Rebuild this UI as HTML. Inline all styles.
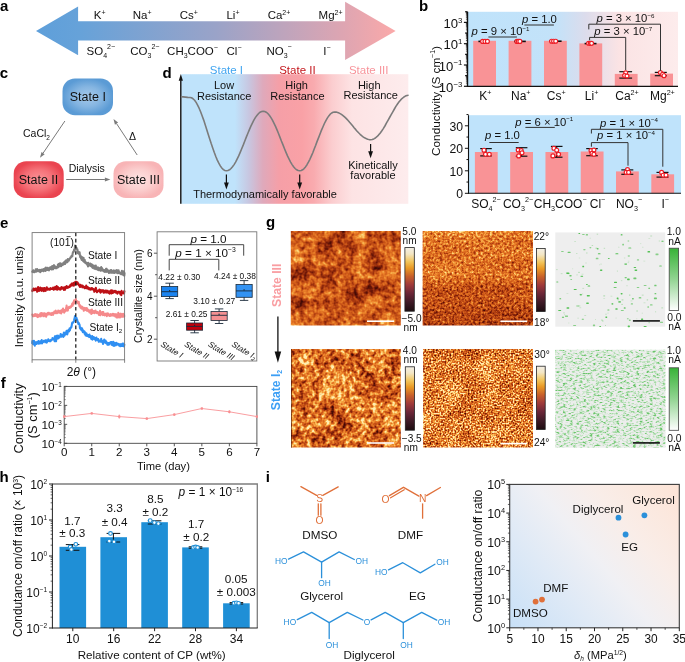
<!DOCTYPE html>
<html><head><meta charset="utf-8"><title>Figure</title>
<style>html,body{margin:0;padding:0;background:#fff}svg{display:block}text{font-family:'Liberation Sans', sans-serif;}</style>
</head><body>
<svg width="685" height="662" viewBox="0 0 685 662" font-family="'Liberation Sans', sans-serif">
<rect width="685" height="662" fill="#fff"/>
<g id="panel_a">
<linearGradient id="gA" x1="36" x2="396" y1="0" y2="0" gradientUnits="userSpaceOnUse">
<stop offset="0" stop-color="#5e9fda"/><stop offset="0.12" stop-color="#66a2d9"/><stop offset="0.5" stop-color="#9aa3c8"/><stop offset="0.85" stop-color="#dda5b2"/><stop offset="1" stop-color="#fba9a9"/></linearGradient>
<path d="M36,31 L78.1,6.6 L78.1,21.2 L345.1,21.2 L345.1,1.8 L395.6,31 L345.1,59.9 L345.1,40.6 L78.1,40.6 L78.1,55.2 Z" fill="url(#gA)"/>
<text x="0.00" y="10.70" font-size="15" font-weight="bold" fill="#000">a</text>
<text x="99.70" y="19.32" font-size="11.5" text-anchor="middle" fill="#111111" >K<tspan dy="-4.80" font-size="7">+</tspan><tspan dy="4.80" font-size="7">​</tspan></text>
<text x="142.20" y="19.32" font-size="11.5" text-anchor="middle" fill="#111111" >Na<tspan dy="-4.80" font-size="7">+</tspan><tspan dy="4.80" font-size="7">​</tspan></text>
<text x="188.80" y="19.32" font-size="11.5" text-anchor="middle" fill="#111111" >Cs<tspan dy="-4.80" font-size="7">+</tspan><tspan dy="4.80" font-size="7">​</tspan></text>
<text x="233.00" y="19.32" font-size="11.5" text-anchor="middle" fill="#111111" >Li<tspan dy="-4.80" font-size="7">+</tspan><tspan dy="4.80" font-size="7">​</tspan></text>
<text x="279.00" y="19.32" font-size="11.5" text-anchor="middle" fill="#111111" >Ca<tspan dy="-4.80" font-size="7">2+</tspan><tspan dy="4.80" font-size="7">​</tspan></text>
<text x="330.60" y="19.32" font-size="11.5" text-anchor="middle" fill="#111111" >Mg<tspan dy="-4.80" font-size="7">2+</tspan><tspan dy="4.80" font-size="7">​</tspan></text>
<text x="100.80" y="54.62" font-size="11.5" text-anchor="middle" fill="#111111" >SO<tspan dy="3.00" font-size="7">4</tspan><tspan dy="-8.4" font-size="7">2−</tspan></text>
<text x="144.80" y="54.62" font-size="11.5" text-anchor="middle" fill="#111111" >CO<tspan dy="3.00" font-size="7">3</tspan><tspan dy="-8.4" font-size="7">2−</tspan></text>
<text x="192.50" y="54.62" font-size="11.5" text-anchor="middle" fill="#111111" >CH<tspan dy="3.00" font-size="7">3</tspan><tspan dy="-3.00" font-size="7">​</tspan>COO<tspan dy="-4.50" font-size="7">−</tspan><tspan dy="4.50" font-size="7">​</tspan></text>
<text x="234.00" y="54.62" font-size="11.5" text-anchor="middle" fill="#111111" >Cl<tspan dy="-4.50" font-size="7">−</tspan><tspan dy="4.50" font-size="7">​</tspan></text>
<text x="279.00" y="54.62" font-size="11.5" text-anchor="middle" fill="#111111" >NO<tspan dy="3.00" font-size="7">3</tspan><tspan dy="-8.4" font-size="7">−</tspan></text>
<text x="327.00" y="54.62" font-size="11.5" text-anchor="middle" fill="#111111" >I<tspan dy="-4.50" font-size="7">−</tspan><tspan dy="4.50" font-size="7">​</tspan></text>
</g>
<g id="panel_c">
<radialGradient id="gC1"><stop offset="0" stop-color="#a6c9ea"/><stop offset="0.55" stop-color="#85b5e1"/><stop offset="1" stop-color="#5b9bd5"/></radialGradient>
<radialGradient id="gC2"><stop offset="0" stop-color="#fa9498"/><stop offset="0.55" stop-color="#f57279"/><stop offset="1" stop-color="#ea4450"/></radialGradient>
<radialGradient id="gC3"><stop offset="0" stop-color="#fde3e3"/><stop offset="0.55" stop-color="#fbcfcf"/><stop offset="1" stop-color="#f8b4b6"/></radialGradient>
<text x="-0.20" y="78.00" font-size="15" font-weight="bold" fill="#000">c</text>
<rect x="62.5" y="78.4" width="50.5" height="36.8" rx="12.5" fill="url(#gC1)"/>
<rect x="13.7" y="161.2" width="50" height="36.8" rx="12.5" fill="url(#gC2)"/>
<rect x="113.5" y="161.2" width="50" height="36.8" rx="12.5" fill="url(#gC3)"/>
<text x="87.80" y="100.97" font-size="12.5" text-anchor="middle" fill="#111111" >State I</text>
<text x="38.50" y="184.28" font-size="12.5" text-anchor="middle" fill="#111111" >State II</text>
<text x="138.50" y="184.28" font-size="12.5" text-anchor="middle" fill="#111111" >State III</text>
<line x1="64.90" y1="121.00" x2="43.09" y2="153.15" stroke="#7a7a7a" stroke-width="1" /><polygon points="40.00,157.70 41.52,152.08 44.66,154.22" fill="#7a7a7a"/>
<line x1="137.20" y1="155.00" x2="116.52" y2="123.59" stroke="#7a7a7a" stroke-width="1" /><polygon points="113.50,119.00 118.11,122.55 114.94,124.64" fill="#7a7a7a"/>
<line x1="66.20" y1="179.50" x2="104.90" y2="179.50" stroke="#7a7a7a" stroke-width="1" /><polygon points="110.40,179.50 104.90,181.40 104.90,177.60" fill="#7a7a7a"/>
<text x="36.50" y="137.26" font-size="10.5" text-anchor="middle" fill="#111111" >CaCl<tspan dy="2.50" font-size="6.5">2</tspan><tspan dy="-2.50" font-size="6.5">​</tspan></text>
<text x="86.80" y="172.26" font-size="10.5" text-anchor="middle" fill="#111111" >Dialysis</text>
<text x="132.50" y="139.76" font-size="10.5" text-anchor="middle" fill="#111111" >Δ</text>
</g>
<g id="panel_d">
<linearGradient id="gD" x1="181.2" x2="408.3" y1="0" y2="0" gradientUnits="userSpaceOnUse">
<stop offset="0" stop-color="#bfe3fb"/><stop offset="0.237" stop-color="#bfe3fb"/><stop offset="0.299" stop-color="#c8c6e0"/><stop offset="0.360" stop-color="#dfa9bb"/><stop offset="0.431" stop-color="#f59fa7"/><stop offset="0.532" stop-color="#f9a1a6"/><stop offset="0.585" stop-color="#f9abaf"/><stop offset="0.664" stop-color="#fbcdcf"/><stop offset="0.752" stop-color="#fde3e4"/><stop offset="1" stop-color="#fdeced"/></linearGradient>
<rect x="181.20" y="74.20" width="227.10" height="129.60" fill="url(#gD)" />
<text x="162.40" y="77.60" font-size="15" font-weight="bold" fill="#000">d</text>
<line x1="180.80" y1="203.80" x2="180.80" y2="80.20" stroke="#111" stroke-width="1.4" />
<polygon points="180.8,73.9 178.70000000000002,80.8 182.9,80.8" fill="#111"/>
<path d="M180.9,96.8 L183.2,96.9 L185.4,97.1 L187.7,97.4 L190.0,97.5 L191.5,97.8 L193.0,98.7 L194.6,100.3 L196.1,102.4 L197.6,105.1 L199.1,108.2 L200.6,111.8 L202.1,115.8 L203.7,120.1 L205.2,124.7 L206.7,129.4 L208.2,134.2 L209.7,138.9 L211.2,143.6 L212.8,148.2 L214.3,152.5 L215.8,156.5 L217.3,160.1 L218.8,163.2 L220.3,165.9 L221.8,168.0 L223.4,169.6 L224.9,170.5 L226.4,170.8 L227.9,170.5 L229.5,169.8 L231.0,168.5 L232.5,166.8 L234.1,164.6 L235.6,162.1 L237.1,159.1 L238.7,155.9 L240.2,152.4 L241.7,148.7 L243.3,144.9 L244.8,141.0 L246.3,137.1 L247.9,133.3 L249.4,129.6 L250.9,126.1 L252.5,122.9 L254.0,119.9 L255.5,117.4 L257.1,115.2 L258.6,113.5 L260.1,112.2 L261.7,111.5 L263.2,111.2 L264.7,111.5 L266.2,112.2 L267.8,113.5 L269.3,115.2 L270.8,117.4 L272.3,119.9 L273.8,122.9 L275.4,126.1 L276.9,129.6 L278.4,133.3 L279.9,137.1 L281.4,141.0 L283.0,144.9 L284.5,148.7 L286.0,152.4 L287.5,155.9 L289.1,159.1 L290.6,162.1 L292.1,164.6 L293.6,166.8 L295.1,168.5 L296.7,169.8 L298.2,170.5 L299.7,170.8 L301.2,170.5 L302.6,169.8 L304.1,168.6 L305.5,166.9 L307.0,164.7 L308.4,162.2 L309.9,159.3 L311.3,156.1 L312.8,152.7 L314.2,149.0 L315.7,145.2 L317.1,141.4 L318.6,137.6 L320.1,133.8 L321.5,130.1 L323.0,126.7 L324.4,123.5 L325.9,120.6 L327.3,118.1 L328.8,115.9 L330.2,114.2 L331.7,113.0 L333.1,112.3 L334.6,112.0 L336.1,112.1 L337.6,112.5 L339.1,113.1 L340.6,113.9 L342.1,114.9 L343.6,116.1 L345.1,117.4 L346.6,118.9 L348.1,120.5 L349.6,122.3 L351.1,124.0 L352.6,125.8 L354.1,127.7 L355.6,129.4 L357.1,131.2 L358.6,132.8 L360.1,134.3 L361.6,135.6 L363.1,136.8 L364.6,137.8 L366.1,138.6 L367.6,139.2 L369.1,139.6 L370.6,139.7 L372.2,139.5 L373.8,138.9 L375.4,138.0 L376.9,136.7 L378.5,135.1 L380.1,133.2 L381.7,131.0 L383.3,128.6 L384.9,126.0 L386.4,123.2 L388.0,120.4 L389.6,117.5 L391.2,114.6 L392.8,111.8 L394.4,109.0 L395.9,106.4 L397.5,104.0 L399.1,101.8 L400.7,99.9 L402.3,98.3 L403.9,97.0 L405.4,96.1 L407.0,95.5 L408.6,95.3" stroke="#7b7b7b" stroke-width="1.6" fill="none" stroke-linejoin="round"/>
<text x="226.40" y="74.12" font-size="11.5" text-anchor="middle" fill="#41a5f0" >State I</text>
<text x="297.40" y="74.12" font-size="11.5" text-anchor="middle" fill="#c4161c" >State II</text>
<text x="368.70" y="74.12" font-size="11.5" text-anchor="middle" fill="#f8939a" >State III</text>
<text x="224.00" y="88.94" font-size="11" text-anchor="middle" fill="#111111" >Low</text>
<text x="224.20" y="100.24" font-size="11" text-anchor="middle" fill="#111111" >Resistance</text>
<text x="296.60" y="88.94" font-size="11" text-anchor="middle" fill="#111111" >High</text>
<text x="297.40" y="100.24" font-size="11" text-anchor="middle" fill="#111111" >Resistance</text>
<text x="369.20" y="88.54" font-size="11" text-anchor="middle" fill="#111111" >High</text>
<text x="370.70" y="99.44" font-size="11" text-anchor="middle" fill="#111111" >Resistance</text>
<line x1="226.40" y1="174.50" x2="226.40" y2="184.60" stroke="#111" stroke-width="1.2" /><polygon points="226.4,189.6 224.0,182.6 228.8,182.6" fill="#111"/>
<line x1="299.70" y1="174.50" x2="299.70" y2="184.60" stroke="#111" stroke-width="1.2" /><polygon points="299.7,189.6 297.3,182.6 302.09999999999997,182.6" fill="#111"/>
<line x1="370.60" y1="144.00" x2="370.60" y2="153.20" stroke="#111" stroke-width="1.2" /><polygon points="370.6,158.2 368.20000000000005,151.2 373.0,151.2" fill="#111"/>
<text x="265.00" y="198.14" font-size="11" text-anchor="middle" fill="#111111" >Thermodynamically favorable</text>
<text x="373.00" y="168.74" font-size="11" text-anchor="middle" fill="#111111" >Kinetically</text>
<text x="373.00" y="179.34" font-size="11" text-anchor="middle" fill="#111111" >favorable</text>
</g>
<g id="panel_b">
<text x="419.00" y="10.70" font-size="15" font-weight="bold" fill="#000">b</text>
<linearGradient id="gB" x1="467.5" x2="678" y1="0" y2="0" gradientUnits="userSpaceOnUse">
<stop offset="0" stop-color="#bfe3fb"/><stop offset="0.42" stop-color="#c3e2f9"/><stop offset="0.56" stop-color="#dcdcec"/><stop offset="0.72" stop-color="#fbe3e4"/><stop offset="1" stop-color="#fdecec"/></linearGradient>
<rect x="467.50" y="11.80" width="210.50" height="74.50" fill="url(#gB)" />
<rect x="473.20" y="40.80" width="22.80" height="45.50" fill="#f99396" />
<rect x="508.60" y="40.80" width="22.80" height="45.50" fill="#f99396" />
<rect x="544.00" y="40.80" width="22.80" height="45.50" fill="#f99396" />
<rect x="579.40" y="43.40" width="22.80" height="42.90" fill="#f99396" />
<rect x="614.80" y="73.90" width="22.80" height="12.40" fill="#f99396" />
<rect x="650.20" y="73.60" width="22.80" height="12.70" fill="#f99396" />
<line x1="467.50" y1="11.80" x2="467.50" y2="86.90" stroke="#111" stroke-width="1.4" />
<line x1="466.90" y1="86.30" x2="678.00" y2="86.30" stroke="#111" stroke-width="1.2" />
<line x1="463.90" y1="86.30" x2="467.50" y2="86.30" stroke="#111" stroke-width="1.2" />
<line x1="465.90" y1="83.09" x2="467.50" y2="83.09" stroke="#111" stroke-width="0.6" />
<line x1="465.90" y1="81.22" x2="467.50" y2="81.22" stroke="#111" stroke-width="0.6" />
<line x1="465.90" y1="79.89" x2="467.50" y2="79.89" stroke="#111" stroke-width="0.6" />
<line x1="465.90" y1="78.86" x2="467.50" y2="78.86" stroke="#111" stroke-width="0.6" />
<line x1="465.90" y1="78.01" x2="467.50" y2="78.01" stroke="#111" stroke-width="0.6" />
<line x1="465.90" y1="77.30" x2="467.50" y2="77.30" stroke="#111" stroke-width="0.6" />
<line x1="465.90" y1="76.68" x2="467.50" y2="76.68" stroke="#111" stroke-width="0.6" />
<line x1="465.90" y1="76.14" x2="467.50" y2="76.14" stroke="#111" stroke-width="0.6" />
<line x1="465.10" y1="75.65" x2="467.50" y2="75.65" stroke="#111" stroke-width="1.2" />
<line x1="465.90" y1="72.44" x2="467.50" y2="72.44" stroke="#111" stroke-width="0.6" />
<line x1="465.90" y1="70.57" x2="467.50" y2="70.57" stroke="#111" stroke-width="0.6" />
<line x1="465.90" y1="69.24" x2="467.50" y2="69.24" stroke="#111" stroke-width="0.6" />
<line x1="465.90" y1="68.21" x2="467.50" y2="68.21" stroke="#111" stroke-width="0.6" />
<line x1="465.90" y1="67.36" x2="467.50" y2="67.36" stroke="#111" stroke-width="0.6" />
<line x1="465.90" y1="66.65" x2="467.50" y2="66.65" stroke="#111" stroke-width="0.6" />
<line x1="465.90" y1="66.03" x2="467.50" y2="66.03" stroke="#111" stroke-width="0.6" />
<line x1="465.90" y1="65.49" x2="467.50" y2="65.49" stroke="#111" stroke-width="0.6" />
<line x1="463.90" y1="65.00" x2="467.50" y2="65.00" stroke="#111" stroke-width="1.2" />
<line x1="465.90" y1="61.79" x2="467.50" y2="61.79" stroke="#111" stroke-width="0.6" />
<line x1="465.90" y1="59.92" x2="467.50" y2="59.92" stroke="#111" stroke-width="0.6" />
<line x1="465.90" y1="58.59" x2="467.50" y2="58.59" stroke="#111" stroke-width="0.6" />
<line x1="465.90" y1="57.56" x2="467.50" y2="57.56" stroke="#111" stroke-width="0.6" />
<line x1="465.90" y1="56.71" x2="467.50" y2="56.71" stroke="#111" stroke-width="0.6" />
<line x1="465.90" y1="56.00" x2="467.50" y2="56.00" stroke="#111" stroke-width="0.6" />
<line x1="465.90" y1="55.38" x2="467.50" y2="55.38" stroke="#111" stroke-width="0.6" />
<line x1="465.90" y1="54.84" x2="467.50" y2="54.84" stroke="#111" stroke-width="0.6" />
<line x1="465.10" y1="54.35" x2="467.50" y2="54.35" stroke="#111" stroke-width="1.2" />
<line x1="465.90" y1="51.14" x2="467.50" y2="51.14" stroke="#111" stroke-width="0.6" />
<line x1="465.90" y1="49.27" x2="467.50" y2="49.27" stroke="#111" stroke-width="0.6" />
<line x1="465.90" y1="47.94" x2="467.50" y2="47.94" stroke="#111" stroke-width="0.6" />
<line x1="465.90" y1="46.91" x2="467.50" y2="46.91" stroke="#111" stroke-width="0.6" />
<line x1="465.90" y1="46.06" x2="467.50" y2="46.06" stroke="#111" stroke-width="0.6" />
<line x1="465.90" y1="45.35" x2="467.50" y2="45.35" stroke="#111" stroke-width="0.6" />
<line x1="465.90" y1="44.73" x2="467.50" y2="44.73" stroke="#111" stroke-width="0.6" />
<line x1="465.90" y1="44.19" x2="467.50" y2="44.19" stroke="#111" stroke-width="0.6" />
<line x1="463.90" y1="43.70" x2="467.50" y2="43.70" stroke="#111" stroke-width="1.2" />
<line x1="465.90" y1="40.49" x2="467.50" y2="40.49" stroke="#111" stroke-width="0.6" />
<line x1="465.90" y1="38.62" x2="467.50" y2="38.62" stroke="#111" stroke-width="0.6" />
<line x1="465.90" y1="37.29" x2="467.50" y2="37.29" stroke="#111" stroke-width="0.6" />
<line x1="465.90" y1="36.26" x2="467.50" y2="36.26" stroke="#111" stroke-width="0.6" />
<line x1="465.90" y1="35.41" x2="467.50" y2="35.41" stroke="#111" stroke-width="0.6" />
<line x1="465.90" y1="34.70" x2="467.50" y2="34.70" stroke="#111" stroke-width="0.6" />
<line x1="465.90" y1="34.08" x2="467.50" y2="34.08" stroke="#111" stroke-width="0.6" />
<line x1="465.90" y1="33.54" x2="467.50" y2="33.54" stroke="#111" stroke-width="0.6" />
<line x1="465.10" y1="33.05" x2="467.50" y2="33.05" stroke="#111" stroke-width="1.2" />
<line x1="465.90" y1="29.84" x2="467.50" y2="29.84" stroke="#111" stroke-width="0.6" />
<line x1="465.90" y1="27.97" x2="467.50" y2="27.97" stroke="#111" stroke-width="0.6" />
<line x1="465.90" y1="26.64" x2="467.50" y2="26.64" stroke="#111" stroke-width="0.6" />
<line x1="465.90" y1="25.61" x2="467.50" y2="25.61" stroke="#111" stroke-width="0.6" />
<line x1="465.90" y1="24.76" x2="467.50" y2="24.76" stroke="#111" stroke-width="0.6" />
<line x1="465.90" y1="24.05" x2="467.50" y2="24.05" stroke="#111" stroke-width="0.6" />
<line x1="465.90" y1="23.43" x2="467.50" y2="23.43" stroke="#111" stroke-width="0.6" />
<line x1="465.90" y1="22.89" x2="467.50" y2="22.89" stroke="#111" stroke-width="0.6" />
<line x1="463.90" y1="22.40" x2="467.50" y2="22.40" stroke="#111" stroke-width="1.2" />
<line x1="465.90" y1="19.19" x2="467.50" y2="19.19" stroke="#111" stroke-width="0.6" />
<line x1="465.90" y1="17.32" x2="467.50" y2="17.32" stroke="#111" stroke-width="0.6" />
<line x1="465.90" y1="15.99" x2="467.50" y2="15.99" stroke="#111" stroke-width="0.6" />
<line x1="465.90" y1="14.96" x2="467.50" y2="14.96" stroke="#111" stroke-width="0.6" />
<line x1="465.90" y1="14.11" x2="467.50" y2="14.11" stroke="#111" stroke-width="0.6" />
<line x1="465.90" y1="13.40" x2="467.50" y2="13.40" stroke="#111" stroke-width="0.6" />
<line x1="465.90" y1="12.78" x2="467.50" y2="12.78" stroke="#111" stroke-width="0.6" />
<line x1="465.90" y1="12.24" x2="467.50" y2="12.24" stroke="#111" stroke-width="0.6" />
<line x1="465.10" y1="11.75" x2="467.50" y2="11.75" stroke="#111" stroke-width="1.2" />
<text x="462.30" y="28.09" font-size="13.1" text-anchor="end" fill="#111111" >10<tspan dy="-5.20" font-size="7.8">3</tspan><tspan dy="5.20" font-size="7.8">​</tspan></text>
<text x="462.30" y="49.39" font-size="13.1" text-anchor="end" fill="#111111" >10<tspan dy="-5.20" font-size="7.8">1</tspan><tspan dy="5.20" font-size="7.8">​</tspan></text>
<text x="462.30" y="70.69" font-size="13.1" text-anchor="end" fill="#111111" >10<tspan dy="-5.20" font-size="7.8">−1</tspan><tspan dy="5.20" font-size="7.8">​</tspan></text>
<text x="462.30" y="91.99" font-size="13.1" text-anchor="end" fill="#111111" >10<tspan dy="-5.20" font-size="7.8">−3</tspan><tspan dy="5.20" font-size="7.8">​</tspan></text>
<line x1="478.40" y1="41.40" x2="489.00" y2="41.40" stroke="#111" stroke-width="1.6" />
<circle cx="482.60" cy="41.40" r="1.95" fill="#fff" stroke="#ee1c25" stroke-width="1.2" />
<circle cx="485.00" cy="41.40" r="1.95" fill="#fff" stroke="#ee1c25" stroke-width="1.2" />
<circle cx="487.40" cy="41.40" r="1.95" fill="#fff" stroke="#ee1c25" stroke-width="1.2" />
<line x1="514.00" y1="41.40" x2="525.80" y2="41.40" stroke="#111" stroke-width="1.6" />
<circle cx="516.90" cy="41.40" r="1.95" fill="#fff" stroke="#ee1c25" stroke-width="1.2" />
<circle cx="518.40" cy="41.40" r="1.95" fill="#fff" stroke="#ee1c25" stroke-width="1.2" />
<circle cx="519.90" cy="41.40" r="1.95" fill="#fff" stroke="#ee1c25" stroke-width="1.2" />
<line x1="549.00" y1="41.20" x2="561.60" y2="41.20" stroke="#111" stroke-width="1.6" />
<circle cx="551.60" cy="41.20" r="1.95" fill="#fff" stroke="#ee1c25" stroke-width="1.2" />
<circle cx="553.60" cy="41.20" r="1.95" fill="#fff" stroke="#ee1c25" stroke-width="1.2" />
<circle cx="555.70" cy="41.20" r="1.95" fill="#fff" stroke="#ee1c25" stroke-width="1.2" />
<line x1="584.60" y1="43.60" x2="596.50" y2="43.60" stroke="#111" stroke-width="1.6" />
<circle cx="588.60" cy="43.30" r="1.95" fill="#fff" stroke="#ee1c25" stroke-width="1.2" />
<circle cx="590.40" cy="43.30" r="1.95" fill="#fff" stroke="#ee1c25" stroke-width="1.2" />
<circle cx="591.60" cy="43.30" r="1.95" fill="#fff" stroke="#ee1c25" stroke-width="1.2" />
<line x1="619.30" y1="71.70" x2="632.10" y2="71.70" stroke="#111" stroke-width="1.2" /><line x1="619.30" y1="78.10" x2="632.10" y2="78.10" stroke="#111" stroke-width="1.2" /><line x1="625.70" y1="71.70" x2="625.70" y2="78.10" stroke="#111" stroke-width="1.2" />
<circle cx="625.70" cy="72.80" r="1.95" fill="#fff" stroke="#ee1c25" stroke-width="1.2" />
<circle cx="624.60" cy="75.60" r="1.95" fill="#fff" stroke="#ee1c25" stroke-width="1.2" />
<circle cx="627.00" cy="76.00" r="1.95" fill="#fff" stroke="#ee1c25" stroke-width="1.2" />
<line x1="654.80" y1="72.40" x2="666.80" y2="72.40" stroke="#111" stroke-width="1.2" /><line x1="654.80" y1="75.70" x2="666.80" y2="75.70" stroke="#111" stroke-width="1.2" /><line x1="660.80" y1="72.40" x2="660.80" y2="75.70" stroke="#111" stroke-width="1.2" />
<circle cx="660.40" cy="72.60" r="1.95" fill="#fff" stroke="#ee1c25" stroke-width="1.2" />
<circle cx="662.60" cy="74.40" r="1.95" fill="#fff" stroke="#ee1c25" stroke-width="1.2" />
<circle cx="664.00" cy="75.70" r="1.95" fill="#fff" stroke="#ee1c25" stroke-width="1.2" />
<text x="471.60" y="35.35" font-size="11.3"  fill="#111111" ><tspan font-style="italic">p</tspan> = 9 × 10<tspan dy="-4.60" font-size="6.2">−1</tspan><tspan dy="4.60" font-size="6.2">​</tspan></text>
<line x1="488.40" y1="37.00" x2="516.90" y2="37.00" stroke="#333" stroke-width="1" />
<text x="522.00" y="23.05" font-size="11.3"  fill="#111111" ><tspan font-style="italic">p</tspan> = 1.0</text>
<line x1="524.40" y1="25.00" x2="553.90" y2="25.00" stroke="#333" stroke-width="1" />
<text x="596.50" y="22.25" font-size="11.3"  fill="#111111" ><tspan font-style="italic">p</tspan> = 3 × 10<tspan dy="-4.60" font-size="6.2">−6</tspan><tspan dy="4.60" font-size="6.2">​</tspan></text>
<path d="M588.8,29.4 V24.2 H660.5 V70.8" stroke="#333" stroke-width="1" fill="none" />
<text x="594.30" y="35.45" font-size="11.3"  fill="#111111" ><tspan font-style="italic">p</tspan> = 3 × 10<tspan dy="-4.60" font-size="6.2">−7</tspan><tspan dy="4.60" font-size="6.2">​</tspan></text>
<path d="M589.6,40.3 V37.4 H625.7 V70" stroke="#333" stroke-width="1" fill="none" />
<text x="485.40" y="99.70" font-size="12" text-anchor="middle" fill="#111111" >K<tspan dy="-4.50" font-size="7.2">+</tspan><tspan dy="4.50" font-size="7.2">​</tspan></text>
<text x="520.80" y="99.70" font-size="12" text-anchor="middle" fill="#111111" >Na<tspan dy="-4.50" font-size="7.2">+</tspan><tspan dy="4.50" font-size="7.2">​</tspan></text>
<text x="556.20" y="99.70" font-size="12" text-anchor="middle" fill="#111111" >Cs<tspan dy="-4.50" font-size="7.2">+</tspan><tspan dy="4.50" font-size="7.2">​</tspan></text>
<text x="591.60" y="99.70" font-size="12" text-anchor="middle" fill="#111111" >Li<tspan dy="-4.50" font-size="7.2">+</tspan><tspan dy="4.50" font-size="7.2">​</tspan></text>
<text x="627.00" y="99.70" font-size="12" text-anchor="middle" fill="#111111" >Ca<tspan dy="-4.50" font-size="7.2">2+</tspan><tspan dy="4.50" font-size="7.2">​</tspan></text>
<text x="662.40" y="99.70" font-size="12" text-anchor="middle" fill="#111111" >Mg<tspan dy="-4.50" font-size="7.2">2+</tspan><tspan dy="4.50" font-size="7.2">​</tspan></text>
<rect x="468.50" y="115.20" width="212.50" height="78.10" fill="#bfe3fb" />
<rect x="474.90" y="152.00" width="22.80" height="41.30" fill="#f99396" />
<rect x="510.18" y="152.00" width="22.80" height="41.30" fill="#f99396" />
<rect x="545.46" y="152.00" width="22.80" height="41.30" fill="#f99396" />
<rect x="580.74" y="151.50" width="22.80" height="41.80" fill="#f99396" />
<rect x="616.02" y="171.40" width="22.80" height="21.90" fill="#f99396" />
<rect x="651.30" y="174.30" width="22.80" height="19.00" fill="#f99396" />
<line x1="468.50" y1="115.20" x2="468.50" y2="193.80" stroke="#111" stroke-width="1.1" />
<line x1="468.00" y1="193.30" x2="681.00" y2="193.30" stroke="#111" stroke-width="1.1" />
<line x1="464.90" y1="193.30" x2="468.50" y2="193.30" stroke="#111" stroke-width="1" />
<line x1="466.50" y1="182.05" x2="468.50" y2="182.05" stroke="#111" stroke-width="1" />
<line x1="464.90" y1="170.80" x2="468.50" y2="170.80" stroke="#111" stroke-width="1" />
<line x1="466.50" y1="159.55" x2="468.50" y2="159.55" stroke="#111" stroke-width="1" />
<line x1="464.90" y1="148.30" x2="468.50" y2="148.30" stroke="#111" stroke-width="1" />
<line x1="466.50" y1="137.05" x2="468.50" y2="137.05" stroke="#111" stroke-width="1" />
<line x1="464.90" y1="125.80" x2="468.50" y2="125.80" stroke="#111" stroke-width="1" />
<line x1="466.50" y1="114.55" x2="468.50" y2="114.55" stroke="#111" stroke-width="1" />
<text x="463.10" y="198.07" font-size="12.2" text-anchor="end" fill="#111111" >0</text>
<text x="463.10" y="175.57" font-size="12.2" text-anchor="end" fill="#111111" >10</text>
<text x="463.10" y="153.07" font-size="12.2" text-anchor="end" fill="#111111" >20</text>
<text x="463.10" y="130.57" font-size="12.2" text-anchor="end" fill="#111111" >30</text>
<line x1="480.20" y1="148.60" x2="491.80" y2="148.60" stroke="#111" stroke-width="1.2" /><line x1="480.20" y1="155.90" x2="491.80" y2="155.90" stroke="#111" stroke-width="1.2" /><line x1="486.00" y1="148.60" x2="486.00" y2="155.90" stroke="#111" stroke-width="1.2" />
<circle cx="484.00" cy="150.20" r="1.95" fill="#fff" stroke="#ee1c25" stroke-width="1.2" />
<circle cx="485.50" cy="154.30" r="1.95" fill="#fff" stroke="#ee1c25" stroke-width="1.2" />
<circle cx="489.30" cy="154.30" r="1.95" fill="#fff" stroke="#ee1c25" stroke-width="1.2" />
<line x1="515.80" y1="147.70" x2="527.40" y2="147.70" stroke="#111" stroke-width="1.2" /><line x1="515.80" y1="156.20" x2="527.40" y2="156.20" stroke="#111" stroke-width="1.2" /><line x1="521.60" y1="147.70" x2="521.60" y2="156.20" stroke="#111" stroke-width="1.2" />
<circle cx="518.20" cy="150.00" r="1.95" fill="#fff" stroke="#ee1c25" stroke-width="1.2" />
<circle cx="521.20" cy="150.50" r="1.95" fill="#fff" stroke="#ee1c25" stroke-width="1.2" />
<circle cx="522.00" cy="152.80" r="1.95" fill="#fff" stroke="#ee1c25" stroke-width="1.2" />
<circle cx="518.70" cy="155.90" r="1.95" fill="#fff" stroke="#ee1c25" stroke-width="1.2" />
<line x1="550.90" y1="146.40" x2="562.50" y2="146.40" stroke="#111" stroke-width="1.2" /><line x1="550.90" y1="157.20" x2="562.50" y2="157.20" stroke="#111" stroke-width="1.2" /><line x1="556.70" y1="146.40" x2="556.70" y2="157.20" stroke="#111" stroke-width="1.2" />
<circle cx="553.90" cy="148.30" r="1.95" fill="#fff" stroke="#ee1c25" stroke-width="1.2" />
<circle cx="556.70" cy="150.20" r="1.95" fill="#fff" stroke="#ee1c25" stroke-width="1.2" />
<circle cx="558.60" cy="154.30" r="1.95" fill="#fff" stroke="#ee1c25" stroke-width="1.2" />
<circle cx="552.90" cy="155.90" r="1.95" fill="#fff" stroke="#ee1c25" stroke-width="1.2" />
<line x1="586.20" y1="148.60" x2="597.80" y2="148.60" stroke="#111" stroke-width="1.2" /><line x1="586.20" y1="155.70" x2="597.80" y2="155.70" stroke="#111" stroke-width="1.2" /><line x1="592.00" y1="148.60" x2="592.00" y2="155.70" stroke="#111" stroke-width="1.2" />
<circle cx="591.00" cy="150.50" r="1.95" fill="#fff" stroke="#ee1c25" stroke-width="1.2" />
<circle cx="593.90" cy="150.00" r="1.95" fill="#fff" stroke="#ee1c25" stroke-width="1.2" />
<circle cx="592.00" cy="153.40" r="1.95" fill="#fff" stroke="#ee1c25" stroke-width="1.2" />
<circle cx="593.90" cy="154.30" r="1.95" fill="#fff" stroke="#ee1c25" stroke-width="1.2" />
<line x1="621.30" y1="169.90" x2="633.30" y2="169.90" stroke="#111" stroke-width="1.2" /><line x1="621.30" y1="174.30" x2="633.30" y2="174.30" stroke="#111" stroke-width="1.2" /><line x1="627.30" y1="169.90" x2="627.30" y2="174.30" stroke="#111" stroke-width="1.2" />
<circle cx="627.50" cy="169.50" r="1.95" fill="#fff" stroke="#ee1c25" stroke-width="1.2" />
<circle cx="626.20" cy="172.40" r="1.95" fill="#fff" stroke="#ee1c25" stroke-width="1.2" />
<circle cx="628.60" cy="172.40" r="1.95" fill="#fff" stroke="#ee1c25" stroke-width="1.2" />
<line x1="656.50" y1="172.40" x2="668.50" y2="172.40" stroke="#111" stroke-width="1.2" /><line x1="656.50" y1="177.10" x2="668.50" y2="177.10" stroke="#111" stroke-width="1.2" /><line x1="662.50" y1="172.40" x2="662.50" y2="177.10" stroke="#111" stroke-width="1.2" />
<circle cx="661.60" cy="172.40" r="1.95" fill="#fff" stroke="#ee1c25" stroke-width="1.2" />
<circle cx="663.20" cy="175.20" r="1.95" fill="#fff" stroke="#ee1c25" stroke-width="1.2" />
<circle cx="666.00" cy="175.20" r="1.95" fill="#fff" stroke="#ee1c25" stroke-width="1.2" />
<text x="485.00" y="139.05" font-size="11.3"  fill="#111111" ><tspan font-style="italic">p</tspan> = 1.0</text>
<line x1="489.30" y1="142.50" x2="518.70" y2="142.50" stroke="#333" stroke-width="1" />
<text x="515.30" y="125.75" font-size="11.3"  fill="#111111" ><tspan font-style="italic">p</tspan> = 6 × 10<tspan dy="-4.60" font-size="6.2">−1</tspan><tspan dy="4.60" font-size="6.2">​</tspan></text>
<line x1="525.40" y1="127.40" x2="554.80" y2="127.40" stroke="#333" stroke-width="1" />
<text x="600.00" y="126.55" font-size="11.3"  fill="#111111" ><tspan font-style="italic">p</tspan> = 1 × 10<tspan dy="-4.60" font-size="6.2">−4</tspan><tspan dy="4.60" font-size="6.2">​</tspan></text>
<path d="M591.4,133.5 V129.3 H662.8 V166.7" stroke="#333" stroke-width="1" fill="none" />
<text x="597.10" y="139.45" font-size="11.3"  fill="#111111" ><tspan font-style="italic">p</tspan> = 1 × 10<tspan dy="-4.60" font-size="6.2">−4</tspan><tspan dy="4.60" font-size="6.2">​</tspan></text>
<path d="M591.4,146.7 V142.6 H628 V165.7" stroke="#333" stroke-width="1" fill="none" />
<text x="486.00" y="207.80" font-size="12" text-anchor="middle" fill="#111111" >SO<tspan dy="3.00" font-size="7.2">4</tspan><tspan dy="-8.6" font-size="7.2">2−</tspan></text>
<text x="518.00" y="207.80" font-size="12" text-anchor="middle" fill="#111111" >CO<tspan dy="3.00" font-size="7.2">3</tspan><tspan dy="-8.6" font-size="7.2">2−</tspan></text>
<text x="560.20" y="207.80" font-size="12" text-anchor="middle" fill="#111111" >CH<tspan dy="3.00" font-size="7.2">3</tspan><tspan dy="-3.00" font-size="7.2">​</tspan>COO<tspan dy="-5.40" font-size="7.2">−</tspan><tspan dy="5.40" font-size="7.2">​</tspan></text>
<text x="597.50" y="207.80" font-size="12" text-anchor="middle" fill="#111111" >Cl<tspan dy="-5.40" font-size="7.2">−</tspan><tspan dy="5.40" font-size="7.2">​</tspan></text>
<text x="629.00" y="207.80" font-size="12" text-anchor="middle" fill="#111111" >NO<tspan dy="3.00" font-size="7.2">3</tspan><tspan dy="-8.6" font-size="7.2">−</tspan></text>
<text x="665.30" y="207.80" font-size="12" text-anchor="middle" fill="#111111" >I<tspan dy="-5.40" font-size="7.2">−</tspan><tspan dy="5.40" font-size="7.2">​</tspan></text>
<text transform="translate(435.40,101.00) rotate(-90)" x="0" y="4.22" font-size="11.8" text-anchor="middle" fill="#111111" >Conductivity (S cm<tspan dy="-4.50" font-size="6.8">−1</tspan><tspan dy="4.50" font-size="6.8">​</tspan>)</text>
</g>
<g id="panel_e">
<text x="0.00" y="227.70" font-size="15" font-weight="bold" fill="#000">e</text>
<path d="M32.1,271.0 L32.4,271.8 L32.7,271.0 L33.0,270.9 L33.3,270.3 L33.6,271.0 L33.9,272.3 L34.2,271.6 L34.5,272.1 L34.8,271.3 L35.1,271.4 L35.4,271.2 L35.7,269.3 L36.0,271.8 L36.3,271.4 L36.6,271.4 L36.9,269.2 L37.2,269.1 L37.5,269.9 L37.8,270.3 L38.1,271.1 L38.4,270.7 L38.7,271.2 L39.0,270.0 L39.3,270.9 L39.6,271.0 L39.9,269.9 L40.2,272.2 L40.5,271.0 L40.8,271.6 L41.1,269.8 L41.4,269.6 L41.7,270.0 L42.0,270.1 L42.3,270.8 L42.6,270.4 L42.9,269.7 L43.2,269.1 L43.5,269.5 L43.8,271.2 L44.1,269.1 L44.4,270.1 L44.7,270.3 L45.0,268.3 L45.3,269.8 L45.6,271.0 L45.9,267.6 L46.2,269.2 L46.5,269.4 L46.8,268.6 L47.1,269.9 L47.4,269.3 L47.7,267.8 L48.0,270.0 L48.3,269.8 L48.6,270.0 L48.9,270.4 L49.2,269.3 L49.5,269.0 L49.8,267.5 L50.1,269.3 L50.4,268.0 L50.7,268.1 L51.0,267.2 L51.3,267.4 L51.6,267.8 L51.9,269.5 L52.2,266.1 L52.5,266.6 L52.8,268.2 L53.1,269.3 L53.4,268.4 L53.7,265.8 L54.0,265.1 L54.3,267.9 L54.6,266.7 L54.9,266.2 L55.2,268.2 L55.5,268.2 L55.8,267.1 L56.1,267.1 L56.4,267.2 L56.7,268.2 L57.0,267.1 L57.3,266.9 L57.6,266.8 L57.9,264.6 L58.2,267.3 L58.5,266.9 L58.8,266.3 L59.1,263.7 L59.4,264.9 L59.7,266.2 L60.0,263.4 L60.3,264.9 L60.6,266.0 L60.9,263.5 L61.2,266.3 L61.5,265.1 L61.8,264.2 L62.1,264.5 L62.4,264.7 L62.7,264.0 L63.0,264.8 L63.3,262.9 L63.6,262.9 L63.9,264.2 L64.2,263.0 L64.5,261.9 L64.8,263.6 L65.1,263.9 L65.4,261.8 L65.7,260.6 L66.0,261.7 L66.3,261.4 L66.6,261.1 L66.9,262.5 L67.2,259.9 L67.5,261.9 L67.8,259.1 L68.1,259.4 L68.4,260.5 L68.7,260.7 L69.0,260.1 L69.3,259.3 L69.6,258.7 L69.9,258.4 L70.2,258.4 L70.5,257.3 L70.8,257.3 L71.1,257.1 L71.4,256.0 L71.7,256.3 L72.0,255.5 L72.3,256.3 L72.6,253.9 L72.9,252.5 L73.2,251.8 L73.5,251.4 L73.8,251.6 L74.1,249.6 L74.4,249.6 L74.7,250.4 L75.0,245.5 L75.3,246.6 L75.6,247.8 L75.9,247.9 L76.2,248.0 L76.5,247.7 L76.8,249.3 L77.1,249.5 L77.4,249.4 L77.7,253.1 L78.0,251.8 L78.3,251.7 L78.7,252.9 L79.0,253.5 L79.3,254.3 L79.6,252.3 L79.9,255.1 L80.2,257.2 L80.5,255.5 L80.8,257.1 L81.1,258.6 L81.4,258.9 L81.7,259.9 L82.0,257.1 L82.3,258.8 L82.6,259.1 L82.9,260.4 L83.2,261.2 L83.5,257.7 L83.8,261.7 L84.1,259.5 L84.4,261.9 L84.7,259.9 L85.0,261.8 L85.3,263.1 L85.6,262.0 L85.9,262.5 L86.2,263.3 L86.5,262.9 L86.8,262.9 L87.1,264.7 L87.4,264.4 L87.7,263.3 L88.0,266.5 L88.3,262.8 L88.6,265.0 L88.9,264.0 L89.2,264.6 L89.5,265.3 L89.8,265.0 L90.1,265.6 L90.4,263.6 L90.7,263.8 L91.0,266.1 L91.3,264.6 L91.6,264.7 L91.9,264.4 L92.2,267.3 L92.5,266.9 L92.8,267.8 L93.1,265.5 L93.4,266.6 L93.7,265.6 L94.0,267.6 L94.3,268.6 L94.6,266.2 L94.9,268.8 L95.2,268.4 L95.5,267.3 L95.8,265.6 L96.1,269.1 L96.4,267.8 L96.7,267.4 L97.0,268.5 L97.3,268.6 L97.6,269.8 L97.9,267.4 L98.2,269.6 L98.5,270.1 L98.8,270.2 L99.1,268.6 L99.4,268.2 L99.7,270.0 L100.0,269.2 L100.3,269.3 L100.6,270.7 L100.9,269.1 L101.2,267.1 L101.5,269.1 L101.8,267.8 L102.1,270.5 L102.4,270.1 L102.7,269.2 L103.0,269.9 L103.3,270.8 L103.6,270.2 L103.9,271.5 L104.2,270.2 L104.5,271.3 L104.8,271.9 L105.1,272.0 L105.4,269.8 L105.7,271.5 L106.0,268.8 L106.3,269.6 L106.6,268.8 L106.9,271.9 L107.2,269.7 L107.5,270.9 L107.8,270.8 L108.1,271.0 L108.4,270.5 L108.7,271.4 L109.0,273.0 L109.3,271.3 L109.6,271.9 L109.9,272.4 L110.2,271.2 L110.5,270.2 L110.8,271.0 L111.1,272.7 L111.4,270.0 L111.7,271.1 L112.0,272.7 L112.3,272.6 L112.6,271.8 L112.9,272.7 L113.2,272.1 L113.5,270.8 L113.8,270.4 L114.1,271.4 L114.4,273.0 L114.7,271.6 L115.0,271.3 L115.3,271.4 L115.6,270.7 L115.9,272.2 L116.2,271.1 L116.5,272.7 L116.8,270.0 L117.1,272.8 L117.4,271.8 L117.7,270.6 L118.0,273.3 L118.3,272.3 L118.6,270.4 L118.9,271.8 L119.2,273.0 L119.5,272.3 L119.8,273.5 L120.1,273.5 L120.4,273.5 L120.7,273.2 L121.0,274.2 L121.3,273.6 L121.6,273.4 L121.9,270.9 L122.2,273.9 L122.5,274.3 L122.8,272.7 L123.1,272.6 L123.4,275.0 L123.7,271.4 L124.0,273.6 L124.3,275.6 L124.6,272.3" stroke="#808080" stroke-width="2.1" fill="none" stroke-linejoin="round"/>
<path d="M32.1,290.0 L32.4,291.1 L32.7,289.3 L33.0,289.9 L33.3,290.2 L33.6,288.6 L33.9,289.3 L34.2,289.7 L34.5,290.1 L34.8,289.4 L35.1,289.2 L35.4,288.5 L35.7,289.1 L36.0,290.2 L36.3,289.5 L36.6,288.6 L36.9,288.6 L37.2,291.8 L37.5,290.4 L37.8,289.9 L38.1,287.0 L38.4,289.9 L38.7,289.8 L39.0,290.9 L39.3,289.7 L39.6,289.3 L39.9,289.8 L40.2,287.6 L40.5,290.3 L40.8,289.6 L41.1,288.7 L41.4,290.5 L41.7,290.9 L42.0,288.0 L42.3,288.7 L42.6,289.5 L42.9,289.4 L43.2,288.9 L43.5,288.4 L43.8,291.1 L44.1,290.2 L44.4,288.1 L44.7,288.0 L45.0,290.7 L45.3,290.1 L45.6,290.8 L45.9,289.9 L46.2,288.4 L46.5,289.4 L46.8,287.2 L47.1,288.4 L47.4,289.1 L47.7,289.6 L48.0,288.4 L48.3,289.0 L48.6,289.5 L48.9,289.4 L49.2,289.6 L49.5,289.2 L49.8,288.7 L50.1,289.7 L50.4,289.0 L50.7,288.2 L51.0,288.4 L51.3,288.9 L51.6,288.8 L51.9,289.0 L52.2,288.8 L52.5,289.0 L52.8,288.7 L53.1,287.6 L53.4,289.1 L53.7,289.7 L54.0,289.1 L54.3,288.5 L54.6,289.1 L54.9,287.8 L55.2,286.9 L55.5,288.6 L55.8,287.7 L56.1,289.2 L56.4,287.5 L56.7,286.1 L57.0,287.5 L57.3,289.8 L57.6,288.1 L57.9,287.1 L58.2,287.6 L58.5,288.8 L58.8,288.7 L59.1,288.4 L59.4,289.5 L59.7,288.8 L60.0,288.1 L60.3,288.6 L60.6,289.6 L60.9,288.9 L61.2,288.9 L61.5,287.0 L61.8,287.8 L62.1,288.5 L62.4,287.6 L62.7,288.7 L63.0,288.3 L63.3,288.5 L63.6,287.5 L63.9,289.9 L64.2,288.7 L64.5,287.3 L64.8,287.5 L65.1,289.7 L65.4,287.0 L65.7,288.1 L66.0,288.1 L66.3,287.2 L66.6,286.1 L66.9,287.2 L67.2,287.3 L67.5,287.9 L67.8,287.6 L68.1,286.8 L68.4,287.5 L68.7,287.1 L69.0,286.7 L69.3,286.5 L69.6,286.1 L69.9,286.8 L70.2,285.1 L70.5,285.4 L70.8,285.8 L71.1,284.4 L71.4,285.1 L71.7,283.6 L72.0,284.6 L72.3,285.5 L72.6,285.3 L72.9,284.6 L73.2,284.2 L73.5,282.9 L73.8,285.7 L74.1,284.3 L74.4,284.7 L74.7,282.7 L75.0,283.2 L75.3,281.7 L75.6,284.0 L75.9,284.2 L76.2,281.7 L76.5,283.4 L76.8,284.2 L77.1,282.2 L77.4,282.3 L77.7,283.2 L78.0,283.8 L78.3,283.3 L78.7,284.9 L79.0,285.3 L79.3,285.8 L79.6,286.1 L79.9,287.0 L80.2,286.9 L80.5,284.8 L80.8,285.7 L81.1,285.4 L81.4,285.5 L81.7,286.5 L82.0,286.7 L82.3,287.3 L82.6,285.6 L82.9,286.0 L83.2,287.2 L83.5,287.1 L83.8,287.1 L84.1,287.4 L84.4,286.9 L84.7,288.3 L85.0,288.1 L85.3,287.8 L85.6,287.3 L85.9,287.8 L86.2,285.6 L86.5,287.3 L86.8,288.3 L87.1,286.9 L87.4,288.5 L87.7,288.6 L88.0,287.3 L88.3,288.3 L88.6,288.4 L88.9,289.1 L89.2,289.3 L89.5,288.8 L89.8,288.1 L90.1,288.8 L90.4,289.0 L90.7,289.7 L91.0,289.4 L91.3,288.5 L91.6,288.0 L91.9,289.0 L92.2,288.7 L92.5,288.4 L92.8,289.4 L93.1,289.1 L93.4,289.7 L93.7,290.1 L94.0,289.3 L94.3,291.8 L94.6,289.5 L94.9,290.8 L95.2,290.0 L95.5,290.9 L95.8,287.8 L96.1,289.3 L96.4,290.3 L96.7,290.6 L97.0,292.3 L97.3,290.5 L97.6,291.4 L97.9,291.0 L98.2,291.2 L98.5,290.8 L98.8,290.3 L99.1,290.9 L99.4,289.5 L99.7,291.6 L100.0,289.7 L100.3,290.8 L100.6,292.6 L100.9,290.5 L101.2,290.8 L101.5,291.8 L101.8,290.8 L102.1,290.1 L102.4,291.1 L102.7,291.4 L103.0,291.6 L103.3,290.3 L103.6,292.6 L103.9,292.6 L104.2,291.1 L104.5,291.4 L104.8,290.8 L105.1,292.5 L105.4,290.6 L105.7,291.9 L106.0,290.9 L106.3,290.7 L106.6,292.0 L106.9,292.6 L107.2,291.4 L107.5,290.8 L107.8,292.2 L108.1,291.5 L108.4,291.8 L108.7,292.9 L109.0,292.6 L109.3,291.2 L109.6,293.7 L109.9,291.7 L110.2,292.4 L110.5,291.2 L110.8,291.7 L111.1,290.2 L111.4,293.4 L111.7,293.1 L112.0,290.8 L112.3,290.5 L112.6,290.5 L112.9,293.0 L113.2,291.6 L113.5,291.9 L113.8,291.7 L114.1,291.9 L114.4,291.1 L114.7,292.1 L115.0,290.8 L115.3,292.1 L115.6,292.4 L115.9,292.6 L116.2,292.0 L116.5,291.4 L116.8,292.4 L117.1,291.9 L117.4,293.7 L117.7,293.0 L118.0,292.2 L118.3,292.0 L118.6,291.8 L118.9,291.6 L119.2,292.1 L119.5,292.7 L119.8,292.9 L120.1,293.0 L120.4,294.4 L120.7,291.9 L121.0,292.6 L121.3,295.1 L121.6,290.9 L121.9,292.2 L122.2,292.8 L122.5,292.8 L122.8,293.1 L123.1,292.5 L123.4,293.1 L123.7,292.8 L124.0,293.5 L124.3,291.1 L124.6,292.0" stroke="#bd1016" stroke-width="2.1" fill="none" stroke-linejoin="round"/>
<path d="M32.1,315.6 L32.4,314.6 L32.7,314.5 L33.0,316.2 L33.3,314.9 L33.6,316.1 L33.9,316.2 L34.2,315.8 L34.5,316.0 L34.8,315.3 L35.1,314.0 L35.4,315.4 L35.7,315.8 L36.0,314.8 L36.3,315.2 L36.6,316.1 L36.9,314.4 L37.2,315.9 L37.5,317.1 L37.8,314.7 L38.1,315.3 L38.4,315.0 L38.7,316.7 L39.0,315.4 L39.3,316.0 L39.6,314.4 L39.9,315.0 L40.2,315.0 L40.5,313.2 L40.8,316.4 L41.1,315.8 L41.4,313.1 L41.7,315.6 L42.0,314.7 L42.3,315.3 L42.6,315.1 L42.9,313.2 L43.2,314.5 L43.5,316.2 L43.8,314.1 L44.1,313.6 L44.4,313.2 L44.7,313.3 L45.0,314.8 L45.3,316.2 L45.6,314.9 L45.9,314.6 L46.2,316.6 L46.5,313.8 L46.8,313.6 L47.1,314.8 L47.4,314.7 L47.7,313.1 L48.0,312.9 L48.3,314.4 L48.6,314.3 L48.9,312.7 L49.2,313.7 L49.5,313.3 L49.8,314.3 L50.1,313.7 L50.4,313.6 L50.7,313.3 L51.0,314.7 L51.3,315.0 L51.6,313.2 L51.9,314.3 L52.2,312.7 L52.5,313.4 L52.8,314.1 L53.1,314.8 L53.4,312.8 L53.7,313.0 L54.0,313.3 L54.3,311.5 L54.6,312.9 L54.9,312.2 L55.2,313.2 L55.5,311.6 L55.8,310.7 L56.1,312.6 L56.4,312.8 L56.7,311.9 L57.0,313.3 L57.3,312.0 L57.6,311.6 L57.9,312.6 L58.2,310.5 L58.5,311.3 L58.8,311.9 L59.1,312.7 L59.4,311.6 L59.7,311.9 L60.0,310.9 L60.3,311.8 L60.6,313.0 L60.9,310.6 L61.2,313.5 L61.5,310.4 L61.8,311.0 L62.1,311.0 L62.4,311.8 L62.7,309.4 L63.0,308.5 L63.3,311.1 L63.6,311.1 L63.9,310.9 L64.2,312.7 L64.5,310.2 L64.8,310.1 L65.1,310.7 L65.4,310.0 L65.7,311.2 L66.0,308.1 L66.3,308.9 L66.6,305.6 L66.9,309.8 L67.2,308.4 L67.5,309.6 L67.8,310.6 L68.1,308.3 L68.4,307.9 L68.7,307.5 L69.0,306.9 L69.3,306.9 L69.6,308.0 L69.9,307.2 L70.2,307.0 L70.5,306.5 L70.8,307.3 L71.1,306.6 L71.4,305.6 L71.7,306.1 L72.0,304.9 L72.3,303.5 L72.6,305.7 L72.9,304.3 L73.2,302.4 L73.5,304.0 L73.8,302.8 L74.1,300.4 L74.4,303.2 L74.7,301.5 L75.0,301.8 L75.3,300.8 L75.6,300.4 L75.9,299.0 L76.2,301.6 L76.5,300.9 L76.8,300.9 L77.1,301.9 L77.4,302.1 L77.7,303.1 L78.0,302.5 L78.3,303.3 L78.7,301.7 L79.0,303.8 L79.3,305.3 L79.6,306.4 L79.9,305.0 L80.2,305.6 L80.5,307.6 L80.8,306.0 L81.1,307.4 L81.4,308.5 L81.7,307.1 L82.0,308.6 L82.3,306.8 L82.6,307.9 L82.9,307.9 L83.2,308.2 L83.5,309.4 L83.8,310.8 L84.1,307.9 L84.4,308.2 L84.7,309.4 L85.0,308.0 L85.3,309.7 L85.6,309.9 L85.9,309.2 L86.2,310.1 L86.5,308.1 L86.8,310.6 L87.1,308.4 L87.4,309.4 L87.7,309.6 L88.0,309.9 L88.3,311.2 L88.6,310.6 L88.9,310.2 L89.2,311.2 L89.5,312.4 L89.8,310.9 L90.1,311.4 L90.4,312.3 L90.7,311.5 L91.0,310.0 L91.3,313.9 L91.6,313.7 L91.9,309.6 L92.2,311.6 L92.5,312.1 L92.8,312.8 L93.1,312.5 L93.4,311.7 L93.7,311.0 L94.0,312.2 L94.3,313.2 L94.6,311.2 L94.9,311.3 L95.2,312.4 L95.5,310.5 L95.8,312.3 L96.1,312.2 L96.4,313.1 L96.7,312.0 L97.0,311.9 L97.3,312.5 L97.6,312.9 L97.9,312.3 L98.2,313.1 L98.5,313.9 L98.8,314.4 L99.1,314.9 L99.4,312.5 L99.7,312.9 L100.0,310.9 L100.3,315.3 L100.6,312.8 L100.9,313.5 L101.2,314.1 L101.5,312.3 L101.8,314.2 L102.1,313.7 L102.4,312.0 L102.7,314.1 L103.0,315.1 L103.3,312.0 L103.6,314.8 L103.9,314.2 L104.2,314.5 L104.5,314.5 L104.8,315.4 L105.1,313.9 L105.4,315.1 L105.7,313.8 L106.0,315.0 L106.3,313.5 L106.6,314.2 L106.9,316.1 L107.2,314.9 L107.5,314.3 L107.8,313.3 L108.1,313.7 L108.4,314.7 L108.7,315.5 L109.0,315.0 L109.3,315.1 L109.6,314.6 L109.9,316.0 L110.2,314.3 L110.5,314.2 L110.8,315.7 L111.1,314.9 L111.4,314.5 L111.7,314.3 L112.0,314.6 L112.3,315.5 L112.6,315.3 L112.9,313.7 L113.2,315.4 L113.5,315.2 L113.8,314.0 L114.1,315.8 L114.4,314.8 L114.7,314.7 L115.0,315.9 L115.3,316.4 L115.6,314.4 L115.9,315.6 L116.2,314.3 L116.5,317.5 L116.8,314.7 L117.1,316.4 L117.4,314.6 L117.7,316.1 L118.0,317.5 L118.3,312.8 L118.6,314.9 L118.9,315.8 L119.2,315.3 L119.5,314.7 L119.8,317.5 L120.1,315.5 L120.4,313.8 L120.7,316.3 L121.0,313.7 L121.3,316.6 L121.6,314.9 L121.9,315.6 L122.2,316.8 L122.5,315.6 L122.8,314.1 L123.1,313.8 L123.4,316.7 L123.7,316.3 L124.0,314.8 L124.3,316.4 L124.6,316.1" stroke="#f5898b" stroke-width="2.1" fill="none" stroke-linejoin="round"/>
<path d="M32.1,343.9 L32.4,341.0 L32.7,342.9 L33.0,344.1 L33.3,343.9 L33.6,344.1 L33.9,340.7 L34.2,343.3 L34.5,343.6 L34.8,345.6 L35.1,342.1 L35.4,342.7 L35.7,343.0 L36.0,343.8 L36.3,342.5 L36.6,344.0 L36.9,342.0 L37.2,343.1 L37.5,342.2 L37.8,342.9 L38.1,342.0 L38.4,341.1 L38.7,343.7 L39.0,342.9 L39.3,342.0 L39.6,342.7 L39.9,343.5 L40.2,341.4 L40.5,342.3 L40.8,342.9 L41.1,342.8 L41.4,341.9 L41.7,340.1 L42.0,343.4 L42.3,342.4 L42.6,342.1 L42.9,341.7 L43.2,342.2 L43.5,341.5 L43.8,340.8 L44.1,341.1 L44.4,341.1 L44.7,341.1 L45.0,340.5 L45.3,342.2 L45.6,340.2 L45.9,342.1 L46.2,340.4 L46.5,341.7 L46.8,342.6 L47.1,341.4 L47.4,340.4 L47.7,341.1 L48.0,341.1 L48.3,339.2 L48.6,340.2 L48.9,340.9 L49.2,340.2 L49.5,340.7 L49.8,341.3 L50.1,341.2 L50.4,341.3 L50.7,340.9 L51.0,339.9 L51.3,340.1 L51.6,339.8 L51.9,339.6 L52.2,339.7 L52.5,338.0 L52.8,339.3 L53.1,339.5 L53.4,338.5 L53.7,339.3 L54.0,339.8 L54.3,339.0 L54.6,341.1 L54.9,336.3 L55.2,338.6 L55.5,336.9 L55.8,339.6 L56.1,341.1 L56.4,335.8 L56.7,338.4 L57.0,338.6 L57.3,337.7 L57.6,338.4 L57.9,335.5 L58.2,338.4 L58.5,337.8 L58.8,337.3 L59.1,336.6 L59.4,337.6 L59.7,336.4 L60.0,336.9 L60.3,336.0 L60.6,334.1 L60.9,336.2 L61.2,336.3 L61.5,336.7 L61.8,334.9 L62.1,335.5 L62.4,336.0 L62.7,335.4 L63.0,336.3 L63.3,336.8 L63.6,333.7 L63.9,332.5 L64.2,335.1 L64.5,335.6 L64.8,334.8 L65.1,334.5 L65.4,332.8 L65.7,332.5 L66.0,333.9 L66.3,331.8 L66.6,330.7 L66.9,331.3 L67.2,334.5 L67.5,333.7 L67.8,330.8 L68.1,330.4 L68.4,331.1 L68.7,329.8 L69.0,331.5 L69.3,329.8 L69.6,328.4 L69.9,330.4 L70.2,328.1 L70.5,328.5 L70.8,327.8 L71.1,327.0 L71.4,327.1 L71.7,325.5 L72.0,323.7 L72.3,322.6 L72.6,322.9 L72.9,322.6 L73.2,322.5 L73.5,321.8 L73.8,321.5 L74.1,320.2 L74.4,318.6 L74.7,318.0 L75.0,316.0 L75.3,317.6 L75.6,318.0 L75.9,318.1 L76.2,317.6 L76.5,318.0 L76.8,319.6 L77.1,319.4 L77.4,320.9 L77.7,321.5 L78.0,322.0 L78.3,323.9 L78.7,322.9 L79.0,323.9 L79.3,324.1 L79.6,324.8 L79.9,327.8 L80.2,328.6 L80.5,327.4 L80.8,328.5 L81.1,329.6 L81.4,329.7 L81.7,330.5 L82.0,328.4 L82.3,329.4 L82.6,330.9 L82.9,332.2 L83.2,331.2 L83.5,330.6 L83.8,331.4 L84.1,331.3 L84.4,331.4 L84.7,334.0 L85.0,332.2 L85.3,333.1 L85.6,335.4 L85.9,334.7 L86.2,334.1 L86.5,333.4 L86.8,334.6 L87.1,336.0 L87.4,335.2 L87.7,336.1 L88.0,335.1 L88.3,335.7 L88.6,335.2 L88.9,336.0 L89.2,337.1 L89.5,334.6 L89.8,336.1 L90.1,336.6 L90.4,336.0 L90.7,336.4 L91.0,337.7 L91.3,339.0 L91.6,337.8 L91.9,337.7 L92.2,336.0 L92.5,339.6 L92.8,337.9 L93.1,337.9 L93.4,337.0 L93.7,338.2 L94.0,337.3 L94.3,338.6 L94.6,339.2 L94.9,338.9 L95.2,339.2 L95.5,338.2 L95.8,340.6 L96.1,338.7 L96.4,337.6 L96.7,339.4 L97.0,338.9 L97.3,338.8 L97.6,339.6 L97.9,340.3 L98.2,339.0 L98.5,340.1 L98.8,341.8 L99.1,341.2 L99.4,340.4 L99.7,340.8 L100.0,340.7 L100.3,340.8 L100.6,341.7 L100.9,341.0 L101.2,338.8 L101.5,341.2 L101.8,340.5 L102.1,342.1 L102.4,340.9 L102.7,341.8 L103.0,343.9 L103.3,340.7 L103.6,340.7 L103.9,340.5 L104.2,339.6 L104.5,340.2 L104.8,342.5 L105.1,341.6 L105.4,340.5 L105.7,340.9 L106.0,343.1 L106.3,341.8 L106.6,342.2 L106.9,343.0 L107.2,344.1 L107.5,344.7 L107.8,343.9 L108.1,343.1 L108.4,343.2 L108.7,344.8 L109.0,344.5 L109.3,342.8 L109.6,343.7 L109.9,343.6 L110.2,343.4 L110.5,342.9 L110.8,342.1 L111.1,343.0 L111.4,342.0 L111.7,344.8 L112.0,344.2 L112.3,342.5 L112.6,345.1 L112.9,344.7 L113.2,341.9 L113.5,345.7 L113.8,344.7 L114.1,346.0 L114.4,342.8 L114.7,344.6 L115.0,344.5 L115.3,344.3 L115.6,344.4 L115.9,345.3 L116.2,342.8 L116.5,343.1 L116.8,343.0 L117.1,343.8 L117.4,343.8 L117.7,344.8 L118.0,344.8 L118.3,344.6 L118.6,343.9 L118.9,344.2 L119.2,345.6 L119.5,345.4 L119.8,344.8 L120.1,344.4 L120.4,346.3 L120.7,344.2 L121.0,345.5 L121.3,346.0 L121.6,344.6 L121.9,345.8 L122.2,343.9 L122.5,346.0 L122.8,345.2 L123.1,343.5 L123.4,345.8 L123.7,344.2 L124.0,346.4 L124.3,344.5 L124.6,345.0" stroke="#2f8ff2" stroke-width="2.1" fill="none" stroke-linejoin="round"/>
<line x1="75.80" y1="232.60" x2="75.80" y2="359.80" stroke="#111" stroke-width="1.2" stroke-dasharray="3.6,2.6"/>
<rect x="32.1" y="232.6" width="92.5" height="127.2" fill="none" stroke="#777" stroke-width="0.9"/>
<line x1="32.10" y1="359.80" x2="32.10" y2="362.80" stroke="#777" stroke-width="0.9" />
<line x1="75.80" y1="359.80" x2="75.80" y2="362.80" stroke="#777" stroke-width="0.9" />
<line x1="124.60" y1="359.80" x2="124.60" y2="362.80" stroke="#777" stroke-width="0.9" />
<text x="61.90" y="245.95" font-size="10.2" text-anchor="middle" fill="#111111" >(101)</text>
<line x1="66.60" y1="236.60" x2="70.60" y2="236.60" stroke="#222" stroke-width="0.8" />
<text x="87.90" y="259.35" font-size="10.2"  fill="#111111" >State I</text>
<text x="87.90" y="284.25" font-size="10.2"  fill="#111111" >State II</text>
<text x="87.90" y="305.65" font-size="10.2"  fill="#111111" >State III</text>
<text x="89.40" y="330.55" font-size="10.2"  fill="#111111" >State I<tspan dy="2.20" font-size="6.2">2</tspan><tspan dy="-2.20" font-size="6.2">​</tspan></text>
<text transform="translate(18.50,296.70) rotate(-90)" x="0" y="4.15" font-size="11.6" text-anchor="middle" fill="#111111" >Intensity (a.u. units)</text>
<text x="81.30" y="375.60" font-size="12" text-anchor="middle" fill="#111111" >2<tspan font-style="italic">θ</tspan> (°)</text>
<rect x="157.1" y="231.8" width="99.7" height="129.2" fill="none" stroke="#777" stroke-width="0.9"/>
<line x1="153.90" y1="339.20" x2="157.10" y2="339.20" stroke="#444" stroke-width="0.9" />
<line x1="155.10" y1="317.70" x2="157.10" y2="317.70" stroke="#444" stroke-width="0.9" />
<line x1="153.90" y1="296.20" x2="157.10" y2="296.20" stroke="#444" stroke-width="0.9" />
<line x1="155.10" y1="274.70" x2="157.10" y2="274.70" stroke="#444" stroke-width="0.9" />
<line x1="153.90" y1="253.20" x2="157.10" y2="253.20" stroke="#444" stroke-width="0.9" />
<text x="152.50" y="342.78" font-size="10" text-anchor="end" fill="#111111" >2</text>
<text x="152.50" y="299.78" font-size="10" text-anchor="end" fill="#111111" >4</text>
<text x="152.50" y="256.78" font-size="10" text-anchor="end" fill="#111111" >6</text>
<text transform="translate(138.40,296.00) rotate(-90)" x="0" y="3.83" font-size="10.7" text-anchor="middle" fill="#111111" >Crystallite size (nm)</text>
<line x1="169.60" y1="283.20" x2="169.60" y2="298.60" stroke="#1a2a3a" stroke-width="0.9" /><line x1="165.40" y1="283.20" x2="173.80" y2="283.20" stroke="#1a2a3a" stroke-width="0.9" /><line x1="165.40" y1="298.60" x2="173.80" y2="298.60" stroke="#1a2a3a" stroke-width="0.9" /><rect x="161.5" y="286.5" width="16.2" height="10.1" fill="#1b84f0" stroke="#1a2a3a" stroke-width="0.8"/><line x1="161.50" y1="291.70" x2="177.70" y2="291.70" stroke="#1a2a3a" stroke-width="0.9" /><rect x="169.00" y="290.10" width="1.20" height="1.20" fill="#1a2a3a" />
<line x1="194.60" y1="320.50" x2="194.60" y2="332.80" stroke="#1a2a3a" stroke-width="0.9" /><line x1="190.40" y1="320.50" x2="198.80" y2="320.50" stroke="#1a2a3a" stroke-width="0.9" /><line x1="190.40" y1="332.80" x2="198.80" y2="332.80" stroke="#1a2a3a" stroke-width="0.9" /><rect x="186.6" y="323" width="16.0" height="7.2" fill="#c0000c" stroke="#1a2a3a" stroke-width="0.8"/><line x1="186.60" y1="326.40" x2="202.60" y2="326.40" stroke="#1a2a3a" stroke-width="0.9" /><rect x="194.00" y="324.80" width="1.20" height="1.20" fill="#1a2a3a" />
<line x1="219.10" y1="308.90" x2="219.10" y2="323.50" stroke="#1a2a3a" stroke-width="0.9" /><line x1="214.90" y1="308.90" x2="223.30" y2="308.90" stroke="#1a2a3a" stroke-width="0.9" /><line x1="214.90" y1="323.50" x2="223.30" y2="323.50" stroke="#1a2a3a" stroke-width="0.9" /><rect x="211" y="311.5" width="16.2" height="9.0" fill="#f59092" stroke="#1a2a3a" stroke-width="0.8"/><line x1="211.00" y1="315.30" x2="227.20" y2="315.30" stroke="#1a2a3a" stroke-width="0.9" /><rect x="218.50" y="313.70" width="1.20" height="1.20" fill="#1a2a3a" />
<line x1="244.10" y1="280.60" x2="244.10" y2="300.40" stroke="#1a2a3a" stroke-width="0.9" /><line x1="239.90" y1="280.60" x2="248.30" y2="280.60" stroke="#1a2a3a" stroke-width="0.9" /><line x1="239.90" y1="300.40" x2="248.30" y2="300.40" stroke="#1a2a3a" stroke-width="0.9" /><rect x="236" y="284.5" width="16.2" height="12.8" fill="#3393f3" stroke="#1a2a3a" stroke-width="0.8"/><line x1="236.00" y1="290.90" x2="252.20" y2="290.90" stroke="#1a2a3a" stroke-width="0.9" /><rect x="243.50" y="289.30" width="1.20" height="1.20" fill="#1a2a3a" />
<clipPath id="clipE"><rect x="157.6" y="231.8" width="102.70000000000002" height="129.2"/></clipPath>
<g clip-path="url(#clipE)"><text x="179.30" y="280.31" font-size="8.4" text-anchor="middle" fill="#111111" >4.22 ± 0.30</text></g>
<text x="235.00" y="279.31" font-size="8.4" text-anchor="middle" fill="#111111" >4.24 ± 0.38</text>
<text x="214.30" y="304.21" font-size="8.4" text-anchor="middle" fill="#111111" >3.10 ± 0.27</text>
<text x="186.60" y="317.01" font-size="8.4" text-anchor="middle" fill="#111111" >2.61 ± 0.25</text>
<path d="M169.2,255.7 V244.7 H243.7 V255.7" stroke="#333" stroke-width="0.9" fill="none" />
<path d="M169.2,270.4 V259.3 H218.8 V270.4" stroke="#333" stroke-width="0.9" fill="none" />
<text x="208.50" y="242.99" font-size="11.7" text-anchor="middle" fill="#111111" ><tspan font-style="italic">p</tspan> = 1.0</text>
<text x="205.50" y="256.59" font-size="11.7" text-anchor="middle" fill="#111111" ><tspan font-style="italic">p</tspan> = 1 × 10<tspan dy="-4.50" font-size="6.8">−3</tspan><tspan dy="4.50" font-size="6.8">​</tspan></text>
<text transform="translate(159.9,345.8) rotate(31)" font-size="8.4" font-style="italic" fill="#111111">State I</text>
<text transform="translate(183.8,345.8) rotate(31)" font-size="8.4" font-style="italic" fill="#111111">State II</text>
<text transform="translate(207.4,345.8) rotate(31)" font-size="8.4" font-style="italic" fill="#111111">State III</text>
<text transform="translate(231,345.8) rotate(31)" font-size="8.4" font-style="italic" fill="#111111">State I<tspan dy="1.80" font-size="5.5">2</tspan><tspan dy="-1.80" font-size="5.5">​</tspan></text>
</g>
<g id="panel_f">
<text x="0.70" y="387.80" font-size="15" font-weight="bold" fill="#000">f</text>
<rect x="64.2" y="386.4" width="192.7" height="56.9" fill="none" stroke="#444" stroke-width="0.9"/>
<line x1="64.20" y1="437.59" x2="65.80" y2="437.59" stroke="#444" stroke-width="0.6" />
<line x1="64.20" y1="434.25" x2="65.80" y2="434.25" stroke="#444" stroke-width="0.6" />
<line x1="64.20" y1="431.88" x2="65.80" y2="431.88" stroke="#444" stroke-width="0.6" />
<line x1="64.20" y1="430.04" x2="65.80" y2="430.04" stroke="#444" stroke-width="0.6" />
<line x1="64.20" y1="428.54" x2="65.80" y2="428.54" stroke="#444" stroke-width="0.6" />
<line x1="64.20" y1="427.27" x2="65.80" y2="427.27" stroke="#444" stroke-width="0.6" />
<line x1="64.20" y1="426.17" x2="65.80" y2="426.17" stroke="#444" stroke-width="0.6" />
<line x1="64.20" y1="425.20" x2="65.80" y2="425.20" stroke="#444" stroke-width="0.6" />
<line x1="64.20" y1="418.62" x2="65.80" y2="418.62" stroke="#444" stroke-width="0.6" />
<line x1="64.20" y1="415.28" x2="65.80" y2="415.28" stroke="#444" stroke-width="0.6" />
<line x1="64.20" y1="412.91" x2="65.80" y2="412.91" stroke="#444" stroke-width="0.6" />
<line x1="64.20" y1="411.08" x2="65.80" y2="411.08" stroke="#444" stroke-width="0.6" />
<line x1="64.20" y1="409.57" x2="65.80" y2="409.57" stroke="#444" stroke-width="0.6" />
<line x1="64.20" y1="408.30" x2="65.80" y2="408.30" stroke="#444" stroke-width="0.6" />
<line x1="64.20" y1="407.20" x2="65.80" y2="407.20" stroke="#444" stroke-width="0.6" />
<line x1="64.20" y1="406.23" x2="65.80" y2="406.23" stroke="#444" stroke-width="0.6" />
<line x1="64.20" y1="399.66" x2="65.80" y2="399.66" stroke="#444" stroke-width="0.6" />
<line x1="64.20" y1="396.32" x2="65.80" y2="396.32" stroke="#444" stroke-width="0.6" />
<line x1="64.20" y1="393.95" x2="65.80" y2="393.95" stroke="#444" stroke-width="0.6" />
<line x1="64.20" y1="392.11" x2="65.80" y2="392.11" stroke="#444" stroke-width="0.6" />
<line x1="64.20" y1="390.61" x2="65.80" y2="390.61" stroke="#444" stroke-width="0.6" />
<line x1="64.20" y1="389.34" x2="65.80" y2="389.34" stroke="#444" stroke-width="0.6" />
<line x1="64.20" y1="388.24" x2="65.80" y2="388.24" stroke="#444" stroke-width="0.6" />
<line x1="64.20" y1="387.27" x2="65.80" y2="387.27" stroke="#444" stroke-width="0.6" />
<line x1="64.20" y1="443.30" x2="67.20" y2="443.30" stroke="#444" stroke-width="0.9" />
<line x1="64.20" y1="424.33" x2="67.20" y2="424.33" stroke="#444" stroke-width="0.9" />
<line x1="64.20" y1="405.37" x2="67.20" y2="405.37" stroke="#444" stroke-width="0.9" />
<line x1="64.20" y1="386.40" x2="67.20" y2="386.40" stroke="#444" stroke-width="0.9" />
<text x="61.80" y="448.32" font-size="11.8" text-anchor="end" fill="#111111" >10<tspan dy="-4.80" font-size="6.3">−4</tspan><tspan dy="4.80" font-size="6.3">​</tspan></text>
<text x="61.80" y="429.36" font-size="11.8" text-anchor="end" fill="#111111" >10<tspan dy="-4.80" font-size="6.3">−3</tspan><tspan dy="4.80" font-size="6.3">​</tspan></text>
<text x="61.80" y="410.39" font-size="11.8" text-anchor="end" fill="#111111" >10<tspan dy="-4.80" font-size="6.3">−2</tspan><tspan dy="4.80" font-size="6.3">​</tspan></text>
<text x="61.80" y="391.42" font-size="11.8" text-anchor="end" fill="#111111" >10<tspan dy="-4.80" font-size="6.3">−1</tspan><tspan dy="4.80" font-size="6.3">​</tspan></text>
<line x1="64.20" y1="443.30" x2="64.20" y2="446.30" stroke="#444" stroke-width="0.9" />
<text x="64.20" y="456.45" font-size="11.6" text-anchor="middle" fill="#111111" >0</text>
<line x1="91.73" y1="443.30" x2="91.73" y2="446.30" stroke="#444" stroke-width="0.9" />
<text x="91.73" y="456.45" font-size="11.6" text-anchor="middle" fill="#111111" >1</text>
<line x1="119.26" y1="443.30" x2="119.26" y2="446.30" stroke="#444" stroke-width="0.9" />
<text x="119.26" y="456.45" font-size="11.6" text-anchor="middle" fill="#111111" >2</text>
<line x1="146.79" y1="443.30" x2="146.79" y2="446.30" stroke="#444" stroke-width="0.9" />
<text x="146.79" y="456.45" font-size="11.6" text-anchor="middle" fill="#111111" >3</text>
<line x1="174.31" y1="443.30" x2="174.31" y2="446.30" stroke="#444" stroke-width="0.9" />
<text x="174.31" y="456.45" font-size="11.6" text-anchor="middle" fill="#111111" >4</text>
<line x1="201.84" y1="443.30" x2="201.84" y2="446.30" stroke="#444" stroke-width="0.9" />
<text x="201.84" y="456.45" font-size="11.6" text-anchor="middle" fill="#111111" >5</text>
<line x1="229.37" y1="443.30" x2="229.37" y2="446.30" stroke="#444" stroke-width="0.9" />
<text x="229.37" y="456.45" font-size="11.6" text-anchor="middle" fill="#111111" >6</text>
<line x1="256.90" y1="443.30" x2="256.90" y2="446.30" stroke="#444" stroke-width="0.9" />
<text x="256.90" y="456.45" font-size="11.6" text-anchor="middle" fill="#111111" >7</text>
<path d="M64.2,416.6 L91.7,413.4 L119.3,416.6 L146.8,418.6 L174.3,414.6 L201.8,408.5 L229.4,411.8 L256.9,416.6" stroke="#f88d90" stroke-width="0.85" fill="none" />
<line x1="64.20" y1="415.10" x2="64.20" y2="418.10" stroke="#f88d90" stroke-width="1" />
<rect x="63.10" y="415.50" width="2.20" height="2.20" fill="#f88d90" />
<line x1="91.73" y1="412.40" x2="91.73" y2="414.40" stroke="#f88d90" stroke-width="1" />
<rect x="90.63" y="412.30" width="2.20" height="2.20" fill="#f88d90" />
<line x1="119.26" y1="414.60" x2="119.26" y2="418.60" stroke="#f88d90" stroke-width="1" />
<rect x="118.16" y="415.50" width="2.20" height="2.20" fill="#f88d90" />
<line x1="146.79" y1="417.40" x2="146.79" y2="419.80" stroke="#f88d90" stroke-width="1" />
<rect x="145.69" y="417.50" width="2.20" height="2.20" fill="#f88d90" />
<line x1="174.31" y1="413.40" x2="174.31" y2="415.80" stroke="#f88d90" stroke-width="1" />
<rect x="173.21" y="413.50" width="2.20" height="2.20" fill="#f88d90" />
<line x1="201.84" y1="407.50" x2="201.84" y2="409.50" stroke="#f88d90" stroke-width="1" />
<rect x="200.74" y="407.40" width="2.20" height="2.20" fill="#f88d90" />
<line x1="229.37" y1="410.30" x2="229.37" y2="413.30" stroke="#f88d90" stroke-width="1" />
<rect x="228.27" y="410.70" width="2.20" height="2.20" fill="#f88d90" />
<line x1="256.90" y1="415.40" x2="256.90" y2="417.80" stroke="#f88d90" stroke-width="1" />
<rect x="255.80" y="415.50" width="2.20" height="2.20" fill="#f88d90" />
<text transform="translate(18.00,418.50) rotate(-90)" x="0" y="4.62" font-size="12.9" text-anchor="middle" fill="#111111" >Conductivity</text>
<text transform="translate(32.60,415.20) rotate(-90)" x="0" y="4.62" font-size="12.9" text-anchor="middle" fill="#111111" >(S cm<tspan dy="-4.80" font-size="7">−1</tspan><tspan dy="4.80" font-size="7">​</tspan>)</text>
<text x="163.40" y="469.51" font-size="11.2" text-anchor="middle" fill="#111111" >Time (day)</text>
</g>
<g id="panel_g">
<text x="266.10" y="227.30" font-size="15" font-weight="bold" fill="#000">g</text>
<linearGradient id="cbA" x1="0" x2="0" y1="0" y2="1">
<stop offset="0" stop-color="#f3efe6"/><stop offset="0.10" stop-color="#f3e6c4"/><stop offset="0.22" stop-color="#f2c45a"/><stop offset="0.32" stop-color="#ea9a25"/><stop offset="0.45" stop-color="#c8602a"/><stop offset="0.58" stop-color="#a03a3a"/><stop offset="0.72" stop-color="#6a2638"/><stop offset="0.86" stop-color="#3e1a26"/><stop offset="1" stop-color="#1c0c10"/></linearGradient>
<linearGradient id="cbG" x1="0" x2="0" y1="0" y2="1"><stop offset="0" stop-color="#37b337"/><stop offset="0.5" stop-color="#92d492"/><stop offset="1" stop-color="#ffffff"/></linearGradient>
<linearGradient id="dk" x1="0" x2="0" y1="0" y2="1"><stop offset="0" stop-color="#fff" stop-opacity="0.08"/><stop offset="0.5" stop-color="#000" stop-opacity="0"/><stop offset="1" stop-color="#3a0c00" stop-opacity="0.28"/></linearGradient>
<filter id="af1" x="0" y="0" width="100%" height="100%" color-interpolation-filters="sRGB">
<feTurbulence type="fractalNoise" baseFrequency="0.06" numOctaves="3" seed="11" result="t1"/>
<feColorMatrix in="t1" type="matrix" values="1 0 0 0 0  1 0 0 0 0  1 0 0 0 0  0 0 0 0 1" result="a"/>
<feTurbulence type="fractalNoise" baseFrequency="0.24" numOctaves="2" seed="3" result="t2"/>
<feColorMatrix in="t2" type="matrix" values="1 0 0 0 0  1 0 0 0 0  1 0 0 0 0  0 0 0 0 1" result="b"/>
<feComposite in="a" in2="b" operator="arithmetic" k1="0" k2="0.45" k3="0.55" k4="0" result="c1"/>
<feColorMatrix in="SourceGraphic" type="matrix" values="1 0 0 0 0  1 0 0 0 0  1 0 0 0 0  0 0 0 0 1" result="s"/>
<feComposite in="c1" in2="s" operator="arithmetic" k1="0" k2="1" k3="0.5" k4="-0.25" result="c2"/>
<feColorMatrix in="c2" type="matrix" values="1.5 0 0 0 -0.265  1.5 0 0 0 -0.265  1.5 0 0 0 -0.265  0 0 0 0 1"/>
<feComponentTransfer><feFuncR type="table" tableValues="0.25 0.45 0.66 0.82 0.93 0.98 1.0"/><feFuncG type="table" tableValues="0.04 0.10 0.22 0.36 0.52 0.75 0.93"/><feFuncB type="table" tableValues="0.02 0.03 0.06 0.10 0.17 0.35 0.70"/></feComponentTransfer>
</filter>
<filter id="af2" x="0" y="0" width="100%" height="100%" color-interpolation-filters="sRGB">
<feTurbulence type="fractalNoise" baseFrequency="0.07" numOctaves="2" seed="5" result="t1"/>
<feColorMatrix in="t1" type="matrix" values="1 0 0 0 0  1 0 0 0 0  1 0 0 0 0  0 0 0 0 1" result="a"/>
<feTurbulence type="fractalNoise" baseFrequency="0.26" numOctaves="2" seed="9" result="t2"/>
<feColorMatrix in="t2" type="matrix" values="1 0 0 0 0  1 0 0 0 0  1 0 0 0 0  0 0 0 0 1" result="b"/>
<feComposite in="a" in2="b" operator="arithmetic" k1="0" k2="0.35" k3="0.65" k4="0" result="c1"/>
<feColorMatrix in="SourceGraphic" type="matrix" values="1 0 0 0 0  1 0 0 0 0  1 0 0 0 0  0 0 0 0 1" result="s"/>
<feComposite in="c1" in2="s" operator="arithmetic" k1="0" k2="1" k3="0.45" k4="-0.225" result="c2"/>
<feColorMatrix in="c2" type="matrix" values="2.1 0 0 0 -0.47  2.1 0 0 0 -0.47  2.1 0 0 0 -0.47  0 0 0 0 1"/>
<feComponentTransfer><feFuncR type="table" tableValues="0.25 0.45 0.66 0.82 0.93 0.98 1.0"/><feFuncG type="table" tableValues="0.04 0.10 0.22 0.36 0.52 0.75 0.93"/><feFuncB type="table" tableValues="0.02 0.03 0.06 0.10 0.17 0.35 0.70"/></feComponentTransfer>
</filter>
<filter id="af3" x="0" y="0" width="100%" height="100%" color-interpolation-filters="sRGB">
<feTurbulence type="fractalNoise" baseFrequency="0.012 0.06" numOctaves="2" seed="8" result="t1"/>
<feColorMatrix in="t1" type="matrix" values="1 0 0 0 0  1 0 0 0 0  1 0 0 0 0  0 0 0 0 1" result="a"/>
<feTurbulence type="fractalNoise" baseFrequency="0.42" numOctaves="2" seed="14" result="t2"/>
<feColorMatrix in="t2" type="matrix" values="1 0 0 0 0  1 0 0 0 0  1 0 0 0 0  0 0 0 0 1" result="b"/>
<feComposite in="a" in2="b" operator="arithmetic" k1="0" k2="0.2" k3="0.8" k4="0" result="c1"/>
<feColorMatrix in="SourceGraphic" type="matrix" values="1 0 0 0 0  1 0 0 0 0  1 0 0 0 0  0 0 0 0 1" result="s"/>
<feComposite in="c1" in2="s" operator="arithmetic" k1="0" k2="1" k3="1.0" k4="-0.5" result="c2"/>
<feColorMatrix in="c2" type="matrix" values="1.3 0 0 0 -0.15  1.3 0 0 0 -0.15  1.3 0 0 0 -0.15  0 0 0 0 1"/>
<feComponentTransfer><feFuncR type="table" tableValues="0.25 0.45 0.66 0.82 0.93 0.98 1.0"/><feFuncG type="table" tableValues="0.04 0.10 0.22 0.36 0.52 0.75 0.93"/><feFuncB type="table" tableValues="0.02 0.03 0.06 0.10 0.17 0.35 0.70"/></feComponentTransfer>
</filter>
<filter id="af4" x="0" y="0" width="100%" height="100%" color-interpolation-filters="sRGB">
<feTurbulence type="fractalNoise" baseFrequency="0.05" numOctaves="2" seed="21" result="t1"/>
<feColorMatrix in="t1" type="matrix" values="1 0 0 0 0  1 0 0 0 0  1 0 0 0 0  0 0 0 0 1" result="a"/>
<feTurbulence type="fractalNoise" baseFrequency="0.6" numOctaves="1" seed="2" result="t2"/>
<feColorMatrix in="t2" type="matrix" values="1 0 0 0 0  1 0 0 0 0  1 0 0 0 0  0 0 0 0 1" result="b"/>
<feComposite in="a" in2="b" operator="arithmetic" k1="0" k2="0.25" k3="1.0" k4="0" result="c"/>
<feColorMatrix in="c" type="matrix" values="2.0 0 0 0 -0.62  2.0 0 0 0 -0.62  2.0 0 0 0 -0.62  0 0 0 0 1"/>
<feComponentTransfer><feFuncR type="table" tableValues="0.25 0.45 0.66 0.82 0.93 0.98 1.0"/><feFuncG type="table" tableValues="0.04 0.10 0.22 0.36 0.52 0.75 0.93"/><feFuncB type="table" tableValues="0.02 0.03 0.06 0.10 0.17 0.35 0.70"/></feComponentTransfer>
</filter>
<radialGradient id="bD"><stop offset="0" stop-color="#000" stop-opacity="0.55"/><stop offset="0.5" stop-color="#000" stop-opacity="0.28"/><stop offset="1" stop-color="#000" stop-opacity="0"/></radialGradient>
<radialGradient id="bL"><stop offset="0" stop-color="#fff" stop-opacity="0.55"/><stop offset="0.5" stop-color="#fff" stop-opacity="0.28"/><stop offset="1" stop-color="#fff" stop-opacity="0"/></radialGradient>
<clipPath id="cl1"><rect x="290.8" y="231" width="110" height="94.6"/></clipPath><clipPath id="cl2"><rect x="291" y="349" width="109.8" height="98.6"/></clipPath><clipPath id="cl3"><rect x="422.6" y="231" width="110.4" height="94.6"/></clipPath><clipPath id="cl4"><rect x="423.1" y="349" width="109.9" height="98.6"/></clipPath><clipPath id="cl6"><rect x="555.3" y="349.7" width="110.2" height="98"/></clipPath>
<g clip-path="url(#cl1)"><g filter="url(#af1)"><rect x="285" y="225" width="122" height="107" fill="#808080"/><circle cx="333.30" cy="283.80" r="12" fill="url(#bD)" stroke="none" stroke-width="1" /><circle cx="305.30" cy="301.30" r="14" fill="url(#bD)" stroke="none" stroke-width="1" /><circle cx="370.10" cy="286.40" r="11" fill="url(#bD)" stroke="none" stroke-width="1" /><circle cx="354.30" cy="303.10" r="12" fill="url(#bD)" stroke="none" stroke-width="1" /><circle cx="380.60" cy="267.20" r="10" fill="url(#bD)" stroke="none" stroke-width="1" /><circle cx="333.30" cy="257.50" r="9" fill="url(#bD)" stroke="none" stroke-width="1" /><circle cx="353.50" cy="248.80" r="10" fill="url(#bD)" stroke="none" stroke-width="1" /><circle cx="296.50" cy="271.50" r="11" fill="url(#bD)" stroke="none" stroke-width="1" /><circle cx="328.00" cy="243.50" r="9" fill="url(#bD)" stroke="none" stroke-width="1" /><circle cx="347.30" cy="292.60" r="10" fill="url(#bD)" stroke="none" stroke-width="1" /><circle cx="321.00" cy="277.70" r="11" fill="url(#bL)" stroke="none" stroke-width="1" /><circle cx="295.60" cy="255.80" r="11" fill="url(#bL)" stroke="none" stroke-width="1" /><circle cx="377.10" cy="243.50" r="10" fill="url(#bL)" stroke="none" stroke-width="1" /><circle cx="394.60" cy="275.00" r="11" fill="url(#bL)" stroke="none" stroke-width="1" /><circle cx="373.60" cy="301.30" r="9" fill="url(#bL)" stroke="none" stroke-width="1" /><circle cx="317.50" cy="320.60" r="9" fill="url(#bL)" stroke="none" stroke-width="1" /><circle cx="363.00" cy="238.00" r="9" fill="url(#bL)" stroke="none" stroke-width="1" /><circle cx="384.00" cy="318.00" r="9" fill="url(#bL)" stroke="none" stroke-width="1" /></g></g>
<g clip-path="url(#cl2)"><g filter="url(#af2)"><rect x="285" y="343" width="122" height="111" fill="#808080"/><circle cx="299.10" cy="392.30" r="10" fill="url(#bD)" stroke="none" stroke-width="1" /><circle cx="310.50" cy="385.30" r="10" fill="url(#bD)" stroke="none" stroke-width="1" /><circle cx="373.60" cy="380.00" r="11" fill="url(#bD)" stroke="none" stroke-width="1" /><circle cx="386.70" cy="394.90" r="11" fill="url(#bD)" stroke="none" stroke-width="1" /><circle cx="335.00" cy="412.50" r="11" fill="url(#bD)" stroke="none" stroke-width="1" /><circle cx="343.80" cy="423.80" r="10" fill="url(#bD)" stroke="none" stroke-width="1" /><circle cx="336.80" cy="434.30" r="9" fill="url(#bD)" stroke="none" stroke-width="1" /><circle cx="321.00" cy="362.50" r="9" fill="url(#bD)" stroke="none" stroke-width="1" /><circle cx="359.60" cy="355.50" r="9" fill="url(#bD)" stroke="none" stroke-width="1" /><circle cx="391.00" cy="362.50" r="9" fill="url(#bD)" stroke="none" stroke-width="1" /><circle cx="315.80" cy="439.60" r="8" fill="url(#bD)" stroke="none" stroke-width="1" /><circle cx="312.00" cy="380.00" r="10" fill="url(#bL)" stroke="none" stroke-width="1" /><circle cx="328.00" cy="388.00" r="12" fill="url(#bL)" stroke="none" stroke-width="1" /><circle cx="345.00" cy="395.00" r="12" fill="url(#bL)" stroke="none" stroke-width="1" /><circle cx="360.00" cy="404.00" r="11" fill="url(#bL)" stroke="none" stroke-width="1" /><circle cx="312.00" cy="424.00" r="12" fill="url(#bL)" stroke="none" stroke-width="1" /><circle cx="382.00" cy="360.00" r="10" fill="url(#bL)" stroke="none" stroke-width="1" /><circle cx="388.00" cy="420.00" r="10" fill="url(#bL)" stroke="none" stroke-width="1" /><circle cx="300.00" cy="360.00" r="9" fill="url(#bL)" stroke="none" stroke-width="1" /></g></g>
<line x1="291.40" y1="349.00" x2="291.40" y2="447.60" stroke="#2a0800" stroke-width="0.8" opacity="0.7"/>
<linearGradient id="vg3" x1="0" x2="0" y1="0" y2="1"><stop offset="0" stop-color="#a0a0a0"/><stop offset="0.5" stop-color="#858585"/><stop offset="1" stop-color="#5c5c5c"/></linearGradient>
<g clip-path="url(#cl3)"><g filter="url(#af3)"><rect x="420" y="228" width="116" height="101" fill="url(#vg3)"/></g></g>
<g clip-path="url(#cl4)"><rect x="420" y="346" width="116" height="105" fill="#e08830" filter="url(#af4)"/></g>
<line x1="367.00" y1="321.20" x2="394.20" y2="321.20" stroke="#fff" stroke-width="1.6" />
<line x1="367.00" y1="443.00" x2="394.00" y2="443.00" stroke="#fff" stroke-width="1.6" />
<line x1="500.40" y1="321.30" x2="527.20" y2="321.30" stroke="#fff" stroke-width="1.6" />
<line x1="500.40" y1="443.60" x2="527.20" y2="443.60" stroke="#fff" stroke-width="1.6" />
<rect x="404.9" y="247.6" width="9.4" height="63.6" fill="url(#cbA)" stroke="#222" stroke-width="0.8"/>
<rect x="405.3" y="366.8" width="9.2" height="63.4" fill="url(#cbA)" stroke="#222" stroke-width="0.8"/>
<rect x="536.4" y="248.5" width="8.8" height="63" fill="url(#cbA)" stroke="#222" stroke-width="0.8"/>
<rect x="536.4" y="366.2" width="8.8" height="63.3" fill="url(#cbA)" stroke="#222" stroke-width="0.8"/>
<text x="402.30" y="235.02" font-size="10.1"  fill="#111111" >5.0</text>
<text x="402.60" y="244.02" font-size="10.1"  fill="#111111" >nm</text>
<text x="401.60" y="321.92" font-size="10.1"  fill="#111111" >−5.0</text>
<text x="403.60" y="330.92" font-size="10.1"  fill="#111111" >nm</text>
<text x="402.80" y="353.82" font-size="10.1"  fill="#111111" >4.0</text>
<text x="403.60" y="363.02" font-size="10.1"  fill="#111111" >nm</text>
<text x="401.80" y="441.72" font-size="10.1"  fill="#111111" >−3.5</text>
<text x="403.80" y="450.92" font-size="10.1"  fill="#111111" >nm</text>
<text x="533.70" y="239.95" font-size="10.2"  fill="#111111" >22°</text>
<text x="534.00" y="326.35" font-size="10.2"  fill="#111111" >18°</text>
<text x="534.30" y="358.35" font-size="10.2"  fill="#111111" >30°</text>
<text x="534.00" y="445.85" font-size="10.2"  fill="#111111" >24°</text>
<rect x="555.30" y="232.40" width="109.90" height="94.30" fill="#eeeeee" />
<g fill="#45bb45"><rect x="578.4" y="232.9" width="1.8" height="1.0" rx="0.4" opacity="0.9"/><rect x="582.1" y="233.9" width="2.6" height="1.0" rx="0.4" opacity="0.6"/><rect x="585.8" y="234.0" width="2.2" height="1.6" rx="0.4" opacity="0.6"/><rect x="620.7" y="234.0" width="1.8" height="1.6" rx="0.4" opacity="0.75"/><rect x="627.5" y="240.5" width="1.8" height="1.0" rx="0.4" opacity="0.6"/><rect x="661.4" y="240.7" width="2.2" height="1.0" rx="0.4" opacity="0.9"/><rect x="622.2" y="243.8" width="1.8" height="1.6" rx="0.4" opacity="0.6"/><rect x="628.3" y="247.6" width="3.0" height="1.0" rx="0.4" opacity="0.75"/><rect x="561.1" y="250.9" width="2.6" height="1.0" rx="0.4" opacity="0.6"/><rect x="567.6" y="251.8" width="3.0" height="1.3" rx="0.4" opacity="0.75"/><rect x="583.3" y="249.2" width="2.2" height="1.0" rx="0.4" opacity="0.75"/><rect x="589.5" y="247.2" width="1.8" height="1.0" rx="0.4" opacity="0.75"/><rect x="596.8" y="248.1" width="1.8" height="1.3" rx="0.4" opacity="0.75"/><rect x="597.9" y="253.3" width="2.6" height="1.0" rx="0.4" opacity="0.9"/><rect x="655.5" y="253.6" width="3.0" height="1.6" rx="0.4" opacity="0.6"/><rect x="615.4" y="253.3" width="3.0" height="1.0" rx="0.4" opacity="0.9"/><rect x="647.5" y="251.0" width="2.6" height="1.6" rx="0.4" opacity="0.9"/><rect x="595.8" y="257.7" width="2.6" height="1.6" rx="0.4" opacity="0.6"/><rect x="607.9" y="258.0" width="1.8" height="1.0" rx="0.4" opacity="0.9"/><rect x="636.9" y="259.3" width="2.2" height="1.3" rx="0.4" opacity="0.6"/><rect x="627.7" y="255.4" width="2.2" height="1.0" rx="0.4" opacity="0.75"/><rect x="624.4" y="263.4" width="2.6" height="1.3" rx="0.4" opacity="0.9"/><rect x="659.2" y="265.6" width="2.6" height="1.0" rx="0.4" opacity="0.75"/><rect x="633.6" y="267.0" width="2.6" height="1.0" rx="0.4" opacity="0.9"/><rect x="634.6" y="269.4" width="2.6" height="1.6" rx="0.4" opacity="0.9"/><rect x="582.3" y="265.7" width="1.8" height="1.6" rx="0.4" opacity="0.9"/><rect x="600.1" y="269.4" width="2.2" height="1.6" rx="0.4" opacity="0.9"/><rect x="556.2" y="281.5" width="2.2" height="1.0" rx="0.4" opacity="0.75"/><rect x="566.4" y="272.6" width="3.0" height="1.3" rx="0.4" opacity="0.9"/><rect x="569.4" y="274.9" width="2.2" height="1.6" rx="0.4" opacity="0.75"/><rect x="570.3" y="278.9" width="1.8" height="1.0" rx="0.4" opacity="0.6"/><rect x="580.5" y="275.7" width="2.6" height="1.3" rx="0.4" opacity="0.75"/><rect x="586.0" y="284.0" width="1.8" height="1.0" rx="0.4" opacity="0.9"/><rect x="587.6" y="285.6" width="2.6" height="1.0" rx="0.4" opacity="0.9"/><rect x="614.0" y="281.8" width="3.0" height="1.3" rx="0.4" opacity="0.9"/><rect x="613.6" y="287.1" width="3.0" height="1.0" rx="0.4" opacity="0.75"/><rect x="624.6" y="277.2" width="2.2" height="1.0" rx="0.4" opacity="0.9"/><rect x="627.1" y="278.6" width="2.6" height="1.6" rx="0.4" opacity="0.9"/><rect x="633.4" y="277.6" width="3.0" height="1.6" rx="0.4" opacity="0.75"/><rect x="636.7" y="287.1" width="2.6" height="1.0" rx="0.4" opacity="0.6"/><rect x="643.6" y="285.0" width="3.0" height="1.0" rx="0.4" opacity="0.6"/><rect x="648.3" y="287.7" width="1.8" height="1.0" rx="0.4" opacity="0.9"/><rect x="654.3" y="284.7" width="2.2" height="1.6" rx="0.4" opacity="0.75"/><rect x="654.5" y="293.0" width="1.8" height="1.3" rx="0.4" opacity="0.75"/><rect x="653.9" y="297.6" width="3.0" height="1.6" rx="0.4" opacity="0.75"/><rect x="620.7" y="292.9" width="1.8" height="1.6" rx="0.4" opacity="0.9"/><rect x="616.7" y="297.6" width="1.8" height="1.6" rx="0.4" opacity="0.9"/><rect x="618.3" y="301.1" width="2.6" height="1.6" rx="0.4" opacity="0.75"/><rect x="632.0" y="298.1" width="1.8" height="1.3" rx="0.4" opacity="0.75"/><rect x="630.8" y="303.3" width="2.2" height="1.3" rx="0.4" opacity="0.6"/><rect x="638.7" y="297.0" width="2.6" height="1.6" rx="0.4" opacity="0.6"/><rect x="611.5" y="303.1" width="1.8" height="1.6" rx="0.4" opacity="0.75"/><rect x="607.3" y="309.5" width="2.2" height="1.0" rx="0.4" opacity="0.75"/><rect x="615.4" y="308.2" width="2.2" height="1.6" rx="0.4" opacity="0.9"/><rect x="623.8" y="307.2" width="1.8" height="1.6" rx="0.4" opacity="0.75"/><rect x="620.8" y="310.1" width="3.0" height="1.0" rx="0.4" opacity="0.6"/><rect x="650.0" y="304.3" width="2.6" height="1.3" rx="0.4" opacity="0.6"/><rect x="647.3" y="306.5" width="1.8" height="1.0" rx="0.4" opacity="0.9"/><rect x="559.4" y="298.3" width="1.8" height="1.0" rx="0.4" opacity="0.9"/><rect x="558.2" y="310.1" width="3.0" height="1.0" rx="0.4" opacity="0.9"/><rect x="561.9" y="316.7" width="2.2" height="1.0" rx="0.4" opacity="0.9"/><rect x="565.0" y="315.4" width="3.0" height="1.6" rx="0.4" opacity="0.6"/><rect x="566.6" y="307.2" width="2.6" height="1.6" rx="0.4" opacity="0.9"/><rect x="573.7" y="289.1" width="3.0" height="1.0" rx="0.4" opacity="0.9"/><rect x="579.7" y="293.9" width="2.2" height="1.6" rx="0.4" opacity="0.75"/><rect x="586.8" y="294.9" width="3.0" height="1.6" rx="0.4" opacity="0.9"/><rect x="586.2" y="302.6" width="2.6" height="1.3" rx="0.4" opacity="0.9"/><rect x="576.2" y="305.4" width="3.0" height="1.0" rx="0.4" opacity="0.6"/><rect x="581.7" y="318.7" width="2.2" height="1.0" rx="0.4" opacity="0.75"/><rect x="605.4" y="316.4" width="1.8" height="1.6" rx="0.4" opacity="0.9"/><rect x="592.9" y="324.6" width="2.2" height="1.6" rx="0.4" opacity="0.6"/><rect x="599.3" y="325.9" width="1.8" height="1.0" rx="0.4" opacity="0.9"/><rect x="626.9" y="318.3" width="1.8" height="1.0" rx="0.4" opacity="0.6"/><rect x="628.9" y="319.6" width="1.8" height="1.3" rx="0.4" opacity="0.6"/><rect x="641.0" y="318.6" width="2.2" height="1.3" rx="0.4" opacity="0.9"/><rect x="643.6" y="325.9" width="3.0" height="1.0" rx="0.4" opacity="0.9"/><rect x="627.7" y="325.6" width="2.2" height="1.6" rx="0.4" opacity="0.9"/><rect x="660.0" y="321.8" width="3.0" height="1.0" rx="0.4" opacity="0.75"/><rect x="573.1" y="324.9" width="3.0" height="1.0" rx="0.4" opacity="0.6"/><rect x="566.4" y="272.9" width="1.4" height="1.0" opacity="0.3"/><rect x="648.4" y="238.2" width="1.8" height="0.8" opacity="0.2"/><rect x="599.1" y="264.4" width="1.0" height="0.8" opacity="0.2"/><rect x="576.4" y="274.5" width="1.4" height="0.8" opacity="0.3"/><rect x="605.5" y="313.7" width="1.0" height="1.0" opacity="0.4"/><rect x="566.5" y="293.2" width="1.8" height="0.8" opacity="0.2"/><rect x="655.1" y="311.3" width="1.0" height="1.0" opacity="0.3"/><rect x="607.5" y="312.7" width="1.0" height="0.8" opacity="0.3"/><rect x="556.2" y="269.1" width="1.4" height="1.0" opacity="0.3"/><rect x="630.5" y="300.4" width="1.8" height="1.0" opacity="0.2"/><rect x="576.3" y="253.2" width="1.0" height="0.8" opacity="0.4"/><rect x="589.6" y="237.8" width="1.4" height="0.8" opacity="0.2"/><rect x="658.8" y="240.6" width="1.0" height="0.8" opacity="0.4"/><rect x="563.3" y="312.5" width="1.4" height="0.8" opacity="0.4"/><rect x="582.3" y="287.9" width="1.8" height="0.8" opacity="0.3"/><rect x="626.3" y="285.2" width="1.4" height="1.0" opacity="0.2"/><rect x="627.7" y="262.1" width="1.4" height="1.0" opacity="0.2"/><rect x="627.9" y="260.8" width="1.4" height="0.8" opacity="0.2"/><rect x="605.0" y="325.1" width="1.0" height="0.8" opacity="0.4"/><rect x="578.8" y="257.6" width="1.4" height="0.8" opacity="0.2"/><rect x="595.5" y="247.7" width="1.8" height="1.0" opacity="0.4"/><rect x="661.3" y="307.5" width="1.8" height="0.8" opacity="0.4"/><rect x="643.4" y="260.7" width="1.8" height="0.8" opacity="0.2"/><rect x="584.3" y="315.1" width="1.8" height="0.8" opacity="0.3"/><rect x="586.1" y="252.6" width="1.4" height="0.8" opacity="0.4"/><rect x="623.9" y="257.5" width="1.4" height="1.0" opacity="0.2"/><rect x="565.9" y="272.2" width="1.4" height="0.8" opacity="0.2"/><rect x="591.7" y="245.2" width="1.4" height="0.8" opacity="0.4"/><rect x="603.3" y="298.1" width="1.8" height="0.8" opacity="0.2"/><rect x="564.1" y="314.4" width="1.0" height="0.8" opacity="0.3"/><rect x="618.3" y="246.8" width="1.0" height="0.8" opacity="0.3"/><rect x="595.0" y="319.0" width="1.0" height="1.0" opacity="0.2"/><rect x="629.0" y="294.6" width="1.4" height="1.0" opacity="0.4"/><rect x="636.2" y="318.4" width="1.0" height="0.8" opacity="0.2"/><rect x="650.3" y="235.5" width="1.8" height="1.0" opacity="0.3"/><rect x="641.8" y="312.7" width="1.0" height="1.0" opacity="0.2"/><rect x="640.2" y="243.1" width="1.0" height="1.0" opacity="0.2"/><rect x="577.4" y="317.7" width="1.4" height="1.0" opacity="0.2"/><rect x="579.9" y="293.9" width="1.4" height="1.0" opacity="0.3"/><rect x="648.5" y="322.2" width="1.4" height="1.0" opacity="0.4"/><rect x="610.5" y="295.7" width="1.8" height="1.0" opacity="0.2"/><rect x="568.3" y="322.5" width="1.0" height="1.0" opacity="0.2"/><rect x="567.6" y="273.2" width="1.8" height="1.0" opacity="0.3"/><rect x="620.9" y="280.3" width="1.4" height="0.8" opacity="0.3"/><rect x="560.7" y="273.3" width="1.8" height="0.8" opacity="0.3"/><rect x="602.1" y="320.5" width="1.4" height="1.0" opacity="0.4"/><rect x="646.7" y="299.4" width="1.4" height="1.0" opacity="0.4"/><rect x="599.7" y="270.2" width="1.4" height="0.8" opacity="0.2"/><rect x="601.0" y="319.7" width="1.8" height="0.8" opacity="0.4"/><rect x="616.9" y="270.6" width="1.0" height="1.0" opacity="0.3"/><rect x="578.5" y="305.5" width="1.8" height="1.0" opacity="0.3"/><rect x="603.3" y="295.4" width="1.8" height="1.0" opacity="0.4"/><rect x="574.2" y="241.0" width="1.8" height="1.0" opacity="0.2"/><rect x="643.6" y="302.3" width="1.8" height="1.0" opacity="0.2"/><rect x="642.3" y="246.8" width="1.0" height="0.8" opacity="0.3"/><rect x="621.4" y="303.9" width="1.4" height="1.0" opacity="0.4"/><rect x="617.6" y="299.3" width="1.4" height="1.0" opacity="0.3"/><rect x="582.1" y="293.6" width="1.0" height="0.8" opacity="0.3"/><rect x="579.4" y="307.2" width="1.8" height="1.0" opacity="0.2"/><rect x="615.6" y="317.6" width="1.0" height="1.0" opacity="0.2"/><rect x="641.8" y="294.6" width="1.8" height="1.0" opacity="0.3"/><rect x="621.6" y="299.4" width="1.8" height="1.0" opacity="0.4"/><rect x="603.7" y="247.8" width="1.4" height="1.0" opacity="0.3"/><rect x="636.4" y="310.5" width="1.4" height="1.0" opacity="0.4"/><rect x="581.6" y="273.7" width="1.8" height="1.0" opacity="0.2"/><rect x="585.1" y="262.6" width="1.8" height="0.8" opacity="0.2"/><rect x="572.1" y="268.4" width="1.0" height="0.8" opacity="0.2"/><rect x="600.4" y="263.6" width="1.4" height="1.0" opacity="0.2"/><rect x="578.1" y="271.9" width="1.8" height="0.8" opacity="0.4"/><rect x="596.7" y="233.7" width="1.4" height="1.0" opacity="0.3"/></g>
<filter id="af6" x="0" y="0" width="100%" height="100%" color-interpolation-filters="sRGB">
<feTurbulence type="fractalNoise" baseFrequency="0.3 0.6" numOctaves="2" seed="4"/>
<feColorMatrix type="matrix" values="2.3 0 0 0 -0.74  2.3 0 0 0 -0.74  2.3 0 0 0 -0.74  0 0 0 0 1"/>
<feComponentTransfer><feFuncR type="table" tableValues="0.933 0.933 0.83 0.66 0.42"/><feFuncG type="table" tableValues="0.933 0.933 0.91 0.86 0.77"/><feFuncB type="table" tableValues="0.933 0.933 0.83 0.66 0.42"/></feComponentTransfer>
</filter>
<g clip-path="url(#cl6)"><rect x="552" y="346" width="117" height="105" fill="#dcebdc" filter="url(#af6)"/></g>
<line x1="632.90" y1="320.90" x2="659.90" y2="320.90" stroke="#111" stroke-width="1.6" />
<line x1="632.90" y1="442.90" x2="659.90" y2="442.90" stroke="#111" stroke-width="1.6" />
<rect x="669.2" y="248.2" width="9.4" height="62.2" fill="url(#cbG)" stroke="#444" stroke-width="0.8"/>
<rect x="669.2" y="367.8" width="9.4" height="62.5" fill="url(#cbG)" stroke="#444" stroke-width="0.8"/>
<text x="673.80" y="235.49" font-size="10.3" text-anchor="middle" fill="#111111" >1.0</text>
<text x="674.50" y="244.69" font-size="10.3" text-anchor="middle" fill="#111111" >nA</text>
<text x="674.40" y="321.09" font-size="10.3" text-anchor="middle" fill="#111111" >0.0</text>
<text x="674.60" y="330.49" font-size="10.3" text-anchor="middle" fill="#111111" >nA</text>
<text x="673.80" y="353.99" font-size="10.3" text-anchor="middle" fill="#111111" >1.0</text>
<text x="674.50" y="363.19" font-size="10.3" text-anchor="middle" fill="#111111" >nA</text>
<text x="674.40" y="441.59" font-size="10.3" text-anchor="middle" fill="#111111" >0.0</text>
<text x="674.60" y="450.69" font-size="10.3" text-anchor="middle" fill="#111111" >nA</text>
<text transform="translate(276.60,285.30) rotate(-90)" x="0" y="4.37" font-size="12.2" text-anchor="middle" fill="#f99da1" font-weight="bold" >State III</text>
<text transform="translate(275.60,390.00) rotate(-90)" x="0" y="4.37" font-size="12.2" text-anchor="middle" fill="#3c9ff5" font-weight="bold" >State I<tspan dy="2.50" font-size="7">2</tspan><tspan dy="-2.50" font-size="7">​</tspan></text>
<line x1="277.90" y1="316.40" x2="277.90" y2="353.00" stroke="#111" stroke-width="1.3" />
<polygon points="277.9,362.8 274.6,351.5 281.2,351.5" fill="#111"/>
</g>
<g id="panel_h">
<text x="-0.50" y="481.70" font-size="15" font-weight="bold" fill="#000">h</text>
<rect x="59.50" y="546.80" width="26.60" height="81.20" fill="#1f8fd6" />
<rect x="100.40" y="537.20" width="26.60" height="90.80" fill="#1f8fd6" />
<rect x="141.30" y="522.20" width="26.60" height="105.80" fill="#1f8fd6" />
<rect x="182.20" y="547.40" width="26.60" height="80.60" fill="#1f8fd6" />
<rect x="223.10" y="603.30" width="26.60" height="24.70" fill="#1f8fd6" />
<path d="M52.4,484 H257.3 V628" fill="none" stroke="#7d7d7d" stroke-width="1.3"/>
<line x1="52.40" y1="483.60" x2="52.40" y2="628.40" stroke="#222" stroke-width="1" />
<line x1="52.00" y1="628.00" x2="257.70" y2="628.00" stroke="#222" stroke-width="1" />
<line x1="50.60" y1="617.16" x2="52.40" y2="617.16" stroke="#222" stroke-width="0.7" />
<line x1="50.60" y1="610.82" x2="52.40" y2="610.82" stroke="#222" stroke-width="0.7" />
<line x1="50.60" y1="606.33" x2="52.40" y2="606.33" stroke="#222" stroke-width="0.7" />
<line x1="50.60" y1="602.84" x2="52.40" y2="602.84" stroke="#222" stroke-width="0.7" />
<line x1="50.60" y1="599.99" x2="52.40" y2="599.99" stroke="#222" stroke-width="0.7" />
<line x1="50.60" y1="597.58" x2="52.40" y2="597.58" stroke="#222" stroke-width="0.7" />
<line x1="50.60" y1="595.49" x2="52.40" y2="595.49" stroke="#222" stroke-width="0.7" />
<line x1="50.60" y1="593.65" x2="52.40" y2="593.65" stroke="#222" stroke-width="0.7" />
<line x1="50.60" y1="581.16" x2="52.40" y2="581.16" stroke="#222" stroke-width="0.7" />
<line x1="50.60" y1="574.82" x2="52.40" y2="574.82" stroke="#222" stroke-width="0.7" />
<line x1="50.60" y1="570.33" x2="52.40" y2="570.33" stroke="#222" stroke-width="0.7" />
<line x1="50.60" y1="566.84" x2="52.40" y2="566.84" stroke="#222" stroke-width="0.7" />
<line x1="50.60" y1="563.99" x2="52.40" y2="563.99" stroke="#222" stroke-width="0.7" />
<line x1="50.60" y1="561.58" x2="52.40" y2="561.58" stroke="#222" stroke-width="0.7" />
<line x1="50.60" y1="559.49" x2="52.40" y2="559.49" stroke="#222" stroke-width="0.7" />
<line x1="50.60" y1="557.65" x2="52.40" y2="557.65" stroke="#222" stroke-width="0.7" />
<line x1="50.60" y1="545.16" x2="52.40" y2="545.16" stroke="#222" stroke-width="0.7" />
<line x1="50.60" y1="538.82" x2="52.40" y2="538.82" stroke="#222" stroke-width="0.7" />
<line x1="50.60" y1="534.33" x2="52.40" y2="534.33" stroke="#222" stroke-width="0.7" />
<line x1="50.60" y1="530.84" x2="52.40" y2="530.84" stroke="#222" stroke-width="0.7" />
<line x1="50.60" y1="527.99" x2="52.40" y2="527.99" stroke="#222" stroke-width="0.7" />
<line x1="50.60" y1="525.58" x2="52.40" y2="525.58" stroke="#222" stroke-width="0.7" />
<line x1="50.60" y1="523.49" x2="52.40" y2="523.49" stroke="#222" stroke-width="0.7" />
<line x1="50.60" y1="521.65" x2="52.40" y2="521.65" stroke="#222" stroke-width="0.7" />
<line x1="50.60" y1="509.16" x2="52.40" y2="509.16" stroke="#222" stroke-width="0.7" />
<line x1="50.60" y1="502.82" x2="52.40" y2="502.82" stroke="#222" stroke-width="0.7" />
<line x1="50.60" y1="498.33" x2="52.40" y2="498.33" stroke="#222" stroke-width="0.7" />
<line x1="50.60" y1="494.84" x2="52.40" y2="494.84" stroke="#222" stroke-width="0.7" />
<line x1="50.60" y1="491.99" x2="52.40" y2="491.99" stroke="#222" stroke-width="0.7" />
<line x1="50.60" y1="489.58" x2="52.40" y2="489.58" stroke="#222" stroke-width="0.7" />
<line x1="50.60" y1="487.49" x2="52.40" y2="487.49" stroke="#222" stroke-width="0.7" />
<line x1="50.60" y1="485.65" x2="52.40" y2="485.65" stroke="#222" stroke-width="0.7" />
<line x1="49.00" y1="628.00" x2="52.40" y2="628.00" stroke="#222" stroke-width="1" />
<line x1="49.00" y1="592.00" x2="52.40" y2="592.00" stroke="#222" stroke-width="1" />
<line x1="49.00" y1="556.00" x2="52.40" y2="556.00" stroke="#222" stroke-width="1" />
<line x1="49.00" y1="520.00" x2="52.40" y2="520.00" stroke="#222" stroke-width="1" />
<line x1="49.00" y1="484.00" x2="52.40" y2="484.00" stroke="#222" stroke-width="1" />
<text x="47.20" y="633.10" font-size="12" text-anchor="end" fill="#111111" >10<tspan dy="-4.80" font-size="6.6">−2</tspan><tspan dy="4.80" font-size="6.6">​</tspan></text>
<text x="47.20" y="597.10" font-size="12" text-anchor="end" fill="#111111" >10<tspan dy="-4.80" font-size="6.6">−1</tspan><tspan dy="4.80" font-size="6.6">​</tspan></text>
<text x="47.20" y="561.10" font-size="12" text-anchor="end" fill="#111111" >10<tspan dy="-4.80" font-size="6.6">0</tspan><tspan dy="4.80" font-size="6.6">​</tspan></text>
<text x="47.20" y="525.10" font-size="12" text-anchor="end" fill="#111111" >10<tspan dy="-4.80" font-size="6.6">1</tspan><tspan dy="4.80" font-size="6.6">​</tspan></text>
<text x="47.20" y="489.10" font-size="12" text-anchor="end" fill="#111111" >10<tspan dy="-4.80" font-size="6.6">2</tspan><tspan dy="4.80" font-size="6.6">​</tspan></text>
<line x1="72.80" y1="628.00" x2="72.80" y2="631.20" stroke="#222" stroke-width="1" />
<text x="72.80" y="643.00" font-size="12" text-anchor="middle" fill="#111111" >10</text>
<line x1="113.70" y1="628.00" x2="113.70" y2="631.20" stroke="#222" stroke-width="1" />
<text x="113.70" y="643.00" font-size="12" text-anchor="middle" fill="#111111" >16</text>
<line x1="154.60" y1="628.00" x2="154.60" y2="631.20" stroke="#222" stroke-width="1" />
<text x="154.60" y="643.00" font-size="12" text-anchor="middle" fill="#111111" >22</text>
<line x1="195.50" y1="628.00" x2="195.50" y2="631.20" stroke="#222" stroke-width="1" />
<text x="195.50" y="643.00" font-size="12" text-anchor="middle" fill="#111111" >28</text>
<line x1="236.40" y1="628.00" x2="236.40" y2="631.20" stroke="#222" stroke-width="1" />
<text x="236.40" y="643.00" font-size="12" text-anchor="middle" fill="#111111" >34</text>
<line x1="65.80" y1="544.60" x2="79.40" y2="544.60" stroke="#111" stroke-width="1" /><line x1="65.80" y1="550.30" x2="79.40" y2="550.30" stroke="#111" stroke-width="1" /><line x1="72.60" y1="544.60" x2="72.60" y2="550.30" stroke="#111" stroke-width="1" />
<circle cx="75.80" cy="544.30" r="1.85" fill="#fff" stroke="#1f8fd6" stroke-width="1.15" />
<circle cx="70.20" cy="546.90" r="1.85" fill="#fff" stroke="#1f8fd6" stroke-width="1.15" />
<circle cx="71.40" cy="549.40" r="1.85" fill="#fff" stroke="#1f8fd6" stroke-width="1.15" />
<line x1="106.60" y1="533.40" x2="120.20" y2="533.40" stroke="#111" stroke-width="1" /><line x1="106.60" y1="542.00" x2="120.20" y2="542.00" stroke="#111" stroke-width="1" /><line x1="113.40" y1="533.40" x2="113.40" y2="542.00" stroke="#111" stroke-width="1" />
<circle cx="110.50" cy="533.40" r="1.85" fill="#fff" stroke="#1f8fd6" stroke-width="1.15" />
<circle cx="109.30" cy="541.10" r="1.85" fill="#fff" stroke="#1f8fd6" stroke-width="1.15" />
<circle cx="114.00" cy="541.80" r="1.85" fill="#fff" stroke="#1f8fd6" stroke-width="1.15" />
<line x1="147.80" y1="520.80" x2="161.40" y2="520.80" stroke="#111" stroke-width="1" /><line x1="147.80" y1="524.00" x2="161.40" y2="524.00" stroke="#111" stroke-width="1" /><line x1="154.60" y1="520.80" x2="154.60" y2="524.00" stroke="#111" stroke-width="1" />
<circle cx="150.20" cy="520.60" r="1.85" fill="#fff" stroke="#1f8fd6" stroke-width="1.15" />
<circle cx="154.40" cy="522.60" r="1.85" fill="#fff" stroke="#1f8fd6" stroke-width="1.15" />
<circle cx="158.40" cy="523.60" r="1.85" fill="#fff" stroke="#1f8fd6" stroke-width="1.15" />
<line x1="188.70" y1="546.80" x2="202.30" y2="546.80" stroke="#111" stroke-width="1" /><line x1="188.70" y1="548.20" x2="202.30" y2="548.20" stroke="#111" stroke-width="1" /><line x1="195.50" y1="546.80" x2="195.50" y2="548.20" stroke="#111" stroke-width="1" />
<circle cx="193.40" cy="547.40" r="1.85" fill="#fff" stroke="#1f8fd6" stroke-width="1.15" />
<circle cx="195.60" cy="547.00" r="1.85" fill="#fff" stroke="#1f8fd6" stroke-width="1.15" />
<circle cx="197.60" cy="547.50" r="1.85" fill="#fff" stroke="#1f8fd6" stroke-width="1.15" />
<line x1="229.60" y1="602.60" x2="243.20" y2="602.60" stroke="#111" stroke-width="1" /><line x1="229.60" y1="604.00" x2="243.20" y2="604.00" stroke="#111" stroke-width="1" /><line x1="236.40" y1="602.60" x2="236.40" y2="604.00" stroke="#111" stroke-width="1" />
<circle cx="234.00" cy="603.20" r="1.85" fill="#fff" stroke="#1f8fd6" stroke-width="1.15" />
<circle cx="236.40" cy="602.80" r="1.85" fill="#fff" stroke="#1f8fd6" stroke-width="1.15" />
<circle cx="238.60" cy="603.30" r="1.85" fill="#fff" stroke="#1f8fd6" stroke-width="1.15" />
<text x="72.30" y="525.19" font-size="11.7" text-anchor="middle" fill="#111111" >1.7</text>
<text x="72.30" y="537.39" font-size="11.7" text-anchor="middle" fill="#111111" >± 0.3</text>
<text x="114.60" y="511.89" font-size="11.7" text-anchor="middle" fill="#111111" >3.3</text>
<text x="114.60" y="525.79" font-size="11.7" text-anchor="middle" fill="#111111" >± 0.4</text>
<text x="155.40" y="503.19" font-size="11.7" text-anchor="middle" fill="#111111" >8.5</text>
<text x="155.40" y="516.19" font-size="11.7" text-anchor="middle" fill="#111111" >± 0.2</text>
<text x="196.20" y="528.09" font-size="11.7" text-anchor="middle" fill="#111111" >1.7</text>
<text x="196.20" y="541.09" font-size="11.7" text-anchor="middle" fill="#111111" >± 0.2</text>
<text x="236.20" y="583.19" font-size="11.7" text-anchor="middle" fill="#111111" >0.05</text>
<text x="236.20" y="596.19" font-size="11.7" text-anchor="middle" fill="#111111" >± 0.003</text>
<text x="178.60" y="495.96" font-size="11.9"  fill="#111111" ><tspan font-style="italic">p</tspan> = 1 × 10<tspan dy="-4.20" font-size="6.5">−16</tspan><tspan dy="4.20" font-size="6.5">​</tspan></text>
<text transform="translate(18.00,556.00) rotate(-90)" x="0" y="4.26" font-size="11.9" text-anchor="middle" fill="#111111" >Condutance on/off ratio (× 10<tspan dy="-4.40" font-size="6.8">3</tspan><tspan dy="4.40" font-size="6.8">​</tspan>)</text>
<text x="151.70" y="658.75" font-size="11.6" text-anchor="middle" fill="#111111" >Relative content of CP (wt%)</text>
</g>
<g id="panel_i">
<text x="265.70" y="481.80" font-size="15" font-weight="bold" fill="#000">i</text>
<path d="M300.9,486.6 L316.6,495.4" stroke="#e0703a" stroke-width="1.3" fill="none" stroke-linejoin="round" stroke-linecap="round"/>
<path d="M338.2,486.9 L322.8,495.4" stroke="#e0703a" stroke-width="1.3" fill="none" stroke-linejoin="round" stroke-linecap="round"/>
<text x="319.60" y="502.49" font-size="10.3" text-anchor="middle" fill="#e0703a" >S</text>
<text x="319.60" y="524.09" font-size="10.3" text-anchor="middle" fill="#e0703a" >O</text>
<path d="M318.3,503.8 L318.3,515.2" stroke="#e0703a" stroke-width="1.3" fill="none" stroke-linejoin="round" stroke-linecap="round"/>
<path d="M320.9,503.8 L320.9,515.2" stroke="#e0703a" stroke-width="1.3" fill="none" stroke-linejoin="round" stroke-linecap="round"/>
<text x="319.90" y="538.99" font-size="11.7" text-anchor="middle" fill="#111111" >DMSO</text>
<text x="385.50" y="503.09" font-size="10.3" text-anchor="middle" fill="#e0703a" >O</text>
<text x="422.60" y="502.49" font-size="10.3" text-anchor="middle" fill="#e0703a" >N</text>
<path d="M389.4,495.6 L403.4,487.4" stroke="#e0703a" stroke-width="1.3" fill="none" stroke-linejoin="round" stroke-linecap="round"/>
<path d="M390.6,497.8 L404.2,489.8" stroke="#e0703a" stroke-width="1.3" fill="none" stroke-linejoin="round" stroke-linecap="round"/>
<path d="M403.6,487.4 L418.9,496.1" stroke="#e0703a" stroke-width="1.3" fill="none" stroke-linejoin="round" stroke-linecap="round"/>
<path d="M426.6,495.6 L440.4,487.5" stroke="#e0703a" stroke-width="1.3" fill="none" stroke-linejoin="round" stroke-linecap="round"/>
<path d="M422.6,503.8 L422.6,518.2" stroke="#e0703a" stroke-width="1.3" fill="none" stroke-linejoin="round" stroke-linecap="round"/>
<text x="410.40" y="538.99" font-size="11.7" text-anchor="middle" fill="#111111" >DMF</text>
<g transform="translate(-0.3,-0.7)">
<text x="281.50" y="564.61" font-size="8.4" text-anchor="middle" fill="#2b90da" >HO</text>
<path d="M288.8,559.8 L303.8,552.6 L321.9,562.8 L339.4,552.6 L354.6,560.2" stroke="#2b90da" stroke-width="1.3" fill="none" stroke-linejoin="round" stroke-linecap="round"/>
<text x="362.00" y="564.61" font-size="8.4" text-anchor="middle" fill="#2b90da" >OH</text>
<path d="M321.9,562.8 L321.9,578.4" stroke="#2b90da" stroke-width="1.3" fill="none" stroke-linejoin="round" stroke-linecap="round"/>
<text x="324.80" y="587.01" font-size="8.4" text-anchor="middle" fill="#2b90da" >OH</text>
<text x="321.90" y="601.19" font-size="11.7" text-anchor="middle" fill="#111111" >Glycerol</text>
<text x="381.50" y="575.91" font-size="8.4" text-anchor="middle" fill="#2b90da" >HO</text>
<path d="M388.8,570.6 L403.1,563.4 L420.6,573.6 L435.2,564.9" stroke="#2b90da" stroke-width="1.3" fill="none" stroke-linejoin="round" stroke-linecap="round"/>
<text x="442.90" y="565.81" font-size="8.4" text-anchor="middle" fill="#2b90da" >OH</text>
<text x="417.70" y="601.19" font-size="11.7" text-anchor="middle" fill="#111111" >EG</text>
<text x="290.20" y="625.51" font-size="8.4" text-anchor="middle" fill="#2b90da" >HO</text>
<path d="M297.6,620.3 L312,613.1 L329.5,623.3 L347.6,613.1 L363.2,620.7" stroke="#2b90da" stroke-width="1.3" fill="none" stroke-linejoin="round" stroke-linecap="round"/>
<text x="367.40" y="625.51" font-size="8.4" text-anchor="middle" fill="#2b90da" >O</text>
<path d="M371.4,620.6 L385.5,613.1 L403.6,623.3 L422,613.1 L437,620.8" stroke="#2b90da" stroke-width="1.3" fill="none" stroke-linejoin="round" stroke-linecap="round"/>
<text x="444.30" y="625.51" font-size="8.4" text-anchor="middle" fill="#2b90da" >OH</text>
<path d="M329.5,623.3 L329.5,639.3" stroke="#2b90da" stroke-width="1.3" fill="none" stroke-linejoin="round" stroke-linecap="round"/>
<text x="332.40" y="648.21" font-size="8.4" text-anchor="middle" fill="#2b90da" >OH</text>
<path d="M403.6,623.3 L403.6,639.3" stroke="#2b90da" stroke-width="1.3" fill="none" stroke-linejoin="round" stroke-linecap="round"/>
<text x="406.90" y="648.21" font-size="8.4" text-anchor="middle" fill="#2b90da" >OH</text>
<text x="369.50" y="659.59" font-size="11.7" text-anchor="middle" fill="#111111" >Diglycerol</text>
</g>
<linearGradient id="gI" x1="509.7" y1="627.8" x2="679.3" y2="484.4" gradientUnits="userSpaceOnUse">
<stop offset="0" stop-color="#c8e0f7"/><stop offset="0.3" stop-color="#e0eaf6"/><stop offset="0.5" stop-color="#f0f0f4"/><stop offset="0.7" stop-color="#f9ede8"/><stop offset="1" stop-color="#fde4d6"/></linearGradient>
<rect x="509.7" y="484.4" width="169.6" height="143.4" fill="url(#gI)" stroke="#3a3a3a" stroke-width="1.1"/>
<line x1="507.90" y1="619.17" x2="509.70" y2="619.17" stroke="#222" stroke-width="0.7" />
<line x1="507.90" y1="614.12" x2="509.70" y2="614.12" stroke="#222" stroke-width="0.7" />
<line x1="507.90" y1="610.53" x2="509.70" y2="610.53" stroke="#222" stroke-width="0.7" />
<line x1="507.90" y1="607.75" x2="509.70" y2="607.75" stroke="#222" stroke-width="0.7" />
<line x1="507.90" y1="605.48" x2="509.70" y2="605.48" stroke="#222" stroke-width="0.7" />
<line x1="507.90" y1="603.56" x2="509.70" y2="603.56" stroke="#222" stroke-width="0.7" />
<line x1="507.90" y1="601.90" x2="509.70" y2="601.90" stroke="#222" stroke-width="0.7" />
<line x1="507.90" y1="600.43" x2="509.70" y2="600.43" stroke="#222" stroke-width="0.7" />
<line x1="507.90" y1="590.49" x2="509.70" y2="590.49" stroke="#222" stroke-width="0.7" />
<line x1="507.90" y1="585.44" x2="509.70" y2="585.44" stroke="#222" stroke-width="0.7" />
<line x1="507.90" y1="581.85" x2="509.70" y2="581.85" stroke="#222" stroke-width="0.7" />
<line x1="507.90" y1="579.07" x2="509.70" y2="579.07" stroke="#222" stroke-width="0.7" />
<line x1="507.90" y1="576.80" x2="509.70" y2="576.80" stroke="#222" stroke-width="0.7" />
<line x1="507.90" y1="574.88" x2="509.70" y2="574.88" stroke="#222" stroke-width="0.7" />
<line x1="507.90" y1="573.22" x2="509.70" y2="573.22" stroke="#222" stroke-width="0.7" />
<line x1="507.90" y1="571.75" x2="509.70" y2="571.75" stroke="#222" stroke-width="0.7" />
<line x1="507.90" y1="561.81" x2="509.70" y2="561.81" stroke="#222" stroke-width="0.7" />
<line x1="507.90" y1="556.76" x2="509.70" y2="556.76" stroke="#222" stroke-width="0.7" />
<line x1="507.90" y1="553.17" x2="509.70" y2="553.17" stroke="#222" stroke-width="0.7" />
<line x1="507.90" y1="550.39" x2="509.70" y2="550.39" stroke="#222" stroke-width="0.7" />
<line x1="507.90" y1="548.12" x2="509.70" y2="548.12" stroke="#222" stroke-width="0.7" />
<line x1="507.90" y1="546.20" x2="509.70" y2="546.20" stroke="#222" stroke-width="0.7" />
<line x1="507.90" y1="544.54" x2="509.70" y2="544.54" stroke="#222" stroke-width="0.7" />
<line x1="507.90" y1="543.07" x2="509.70" y2="543.07" stroke="#222" stroke-width="0.7" />
<line x1="507.90" y1="533.13" x2="509.70" y2="533.13" stroke="#222" stroke-width="0.7" />
<line x1="507.90" y1="528.08" x2="509.70" y2="528.08" stroke="#222" stroke-width="0.7" />
<line x1="507.90" y1="524.49" x2="509.70" y2="524.49" stroke="#222" stroke-width="0.7" />
<line x1="507.90" y1="521.71" x2="509.70" y2="521.71" stroke="#222" stroke-width="0.7" />
<line x1="507.90" y1="519.44" x2="509.70" y2="519.44" stroke="#222" stroke-width="0.7" />
<line x1="507.90" y1="517.52" x2="509.70" y2="517.52" stroke="#222" stroke-width="0.7" />
<line x1="507.90" y1="515.86" x2="509.70" y2="515.86" stroke="#222" stroke-width="0.7" />
<line x1="507.90" y1="514.39" x2="509.70" y2="514.39" stroke="#222" stroke-width="0.7" />
<line x1="507.90" y1="504.45" x2="509.70" y2="504.45" stroke="#222" stroke-width="0.7" />
<line x1="507.90" y1="499.40" x2="509.70" y2="499.40" stroke="#222" stroke-width="0.7" />
<line x1="507.90" y1="495.81" x2="509.70" y2="495.81" stroke="#222" stroke-width="0.7" />
<line x1="507.90" y1="493.03" x2="509.70" y2="493.03" stroke="#222" stroke-width="0.7" />
<line x1="507.90" y1="490.76" x2="509.70" y2="490.76" stroke="#222" stroke-width="0.7" />
<line x1="507.90" y1="488.84" x2="509.70" y2="488.84" stroke="#222" stroke-width="0.7" />
<line x1="507.90" y1="487.18" x2="509.70" y2="487.18" stroke="#222" stroke-width="0.7" />
<line x1="507.90" y1="485.71" x2="509.70" y2="485.71" stroke="#222" stroke-width="0.7" />
<line x1="506.30" y1="627.80" x2="509.70" y2="627.80" stroke="#222" stroke-width="1" />
<text x="505.10" y="632.80" font-size="12.3" text-anchor="end" fill="#111111" >10<tspan dy="-5.00" font-size="7.4">0</tspan><tspan dy="5.00" font-size="7.4">​</tspan></text>
<line x1="506.30" y1="599.12" x2="509.70" y2="599.12" stroke="#222" stroke-width="1" />
<text x="505.10" y="604.12" font-size="12.3" text-anchor="end" fill="#111111" >10<tspan dy="-5.00" font-size="7.4">1</tspan><tspan dy="5.00" font-size="7.4">​</tspan></text>
<line x1="506.30" y1="570.44" x2="509.70" y2="570.44" stroke="#222" stroke-width="1" />
<text x="505.10" y="575.44" font-size="12.3" text-anchor="end" fill="#111111" >10<tspan dy="-5.00" font-size="7.4">2</tspan><tspan dy="5.00" font-size="7.4">​</tspan></text>
<line x1="506.30" y1="541.76" x2="509.70" y2="541.76" stroke="#222" stroke-width="1" />
<text x="505.10" y="546.76" font-size="12.3" text-anchor="end" fill="#111111" >10<tspan dy="-5.00" font-size="7.4">3</tspan><tspan dy="5.00" font-size="7.4">​</tspan></text>
<line x1="506.30" y1="513.08" x2="509.70" y2="513.08" stroke="#222" stroke-width="1" />
<text x="505.10" y="518.08" font-size="12.3" text-anchor="end" fill="#111111" >10<tspan dy="-5.00" font-size="7.4">4</tspan><tspan dy="5.00" font-size="7.4">​</tspan></text>
<line x1="506.30" y1="484.40" x2="509.70" y2="484.40" stroke="#222" stroke-width="1" />
<text x="505.10" y="489.40" font-size="12.3" text-anchor="end" fill="#111111" >10<tspan dy="-5.00" font-size="7.4">5</tspan><tspan dy="5.00" font-size="7.4">​</tspan></text>
<line x1="509.70" y1="627.80" x2="509.70" y2="631.20" stroke="#222" stroke-width="1" />
<line x1="523.83" y1="627.80" x2="523.83" y2="629.80" stroke="#222" stroke-width="0.8" />
<text x="509.70" y="643.16" font-size="11.9" text-anchor="middle" fill="#111111" >5</text>
<line x1="537.97" y1="627.80" x2="537.97" y2="631.20" stroke="#222" stroke-width="1" />
<line x1="552.10" y1="627.80" x2="552.10" y2="629.80" stroke="#222" stroke-width="0.8" />
<text x="537.97" y="643.16" font-size="11.9" text-anchor="middle" fill="#111111" >10</text>
<line x1="566.23" y1="627.80" x2="566.23" y2="631.20" stroke="#222" stroke-width="1" />
<line x1="580.37" y1="627.80" x2="580.37" y2="629.80" stroke="#222" stroke-width="0.8" />
<text x="566.23" y="643.16" font-size="11.9" text-anchor="middle" fill="#111111" >15</text>
<line x1="594.50" y1="627.80" x2="594.50" y2="631.20" stroke="#222" stroke-width="1" />
<line x1="608.63" y1="627.80" x2="608.63" y2="629.80" stroke="#222" stroke-width="0.8" />
<text x="594.50" y="643.16" font-size="11.9" text-anchor="middle" fill="#111111" >20</text>
<line x1="622.77" y1="627.80" x2="622.77" y2="631.20" stroke="#222" stroke-width="1" />
<line x1="636.90" y1="627.80" x2="636.90" y2="629.80" stroke="#222" stroke-width="0.8" />
<text x="622.77" y="643.16" font-size="11.9" text-anchor="middle" fill="#111111" >25</text>
<line x1="651.03" y1="627.80" x2="651.03" y2="631.20" stroke="#222" stroke-width="1" />
<line x1="665.17" y1="627.80" x2="665.17" y2="629.80" stroke="#222" stroke-width="0.8" />
<text x="651.03" y="643.16" font-size="11.9" text-anchor="middle" fill="#111111" >30</text>
<line x1="679.30" y1="627.80" x2="679.30" y2="631.20" stroke="#222" stroke-width="1" />
<text x="679.30" y="643.16" font-size="11.9" text-anchor="middle" fill="#111111" >35</text>
<circle cx="535.60" cy="601.60" r="2.9" fill="#e0703a" stroke="none" stroke-width="1" />
<circle cx="542.00" cy="599.60" r="2.9" fill="#e0703a" stroke="none" stroke-width="1" />
<circle cx="618.50" cy="517.70" r="2.9" fill="#2b90da" stroke="none" stroke-width="1" />
<circle cx="625.60" cy="534.50" r="2.9" fill="#2b90da" stroke="none" stroke-width="1" />
<circle cx="644.40" cy="515.30" r="2.9" fill="#2b90da" stroke="none" stroke-width="1" />
<text x="598.00" y="512.75" font-size="11.6" text-anchor="middle" fill="#111111" >Diglycerol</text>
<text x="653.50" y="504.35" font-size="11.6" text-anchor="middle" fill="#111111" >Glycerol</text>
<text x="629.60" y="551.35" font-size="11.6" text-anchor="middle" fill="#111111" >EG</text>
<text x="555.80" y="591.65" font-size="11.6" text-anchor="middle" fill="#111111" >DMF</text>
<text x="530.40" y="616.85" font-size="11.6" text-anchor="middle" fill="#111111" >DMSO</text>
<text transform="translate(477.80,556.00) rotate(-90)" x="0" y="4.37" font-size="12.2" text-anchor="middle" fill="#111111" >Conductance on/off ratio</text>
<text x="600.40" y="658.71" font-size="11.2" text-anchor="middle" fill="#111111" ><tspan font-style="italic">δ</tspan><tspan dy="2.20" font-size="6.5"><tspan font-style="italic">h</tspan></tspan><tspan dy="-2.20" font-size="6.5">​</tspan> (MPa<tspan dy="-4.20" font-size="6.8">1/2</tspan><tspan dy="4.20" font-size="6.8">​</tspan>)</text>
</g>
</svg>
</body></html>
